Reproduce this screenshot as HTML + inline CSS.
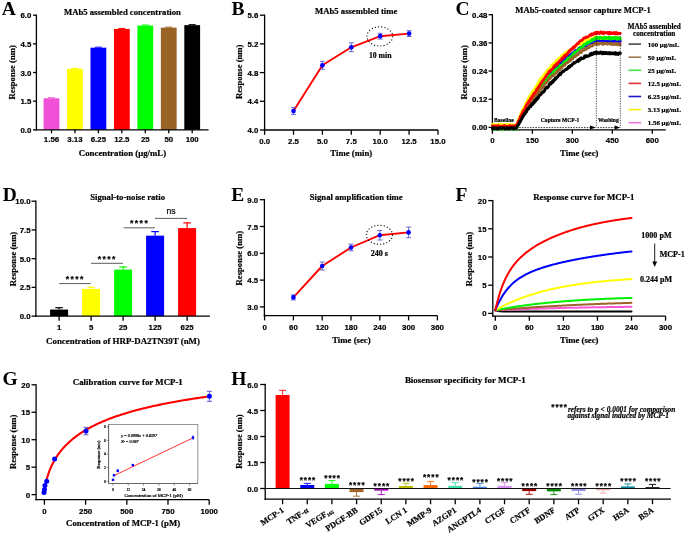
<!DOCTYPE html>
<html><head><meta charset="utf-8"><style>
html,body{margin:0;padding:0;background:#fff;}
svg{display:block;}
#w{will-change:transform;width:685px;height:535px;background:#fff;}
</style></head><body>
<div id="w"><svg width="685" height="535" viewBox="0 0 685 535">
<style>text{stroke:#000;stroke-width:0.2px;}</style>
<rect width="685" height="535" fill="#fff"/>
<text x="1.8" y="14.6" font-family="'Liberation Serif', serif" font-size="19.5" font-weight="bold" text-anchor="start" fill="#000" style="stroke:none">A</text>
<line x1="36.4" y1="14.55" x2="36.4" y2="130.45" stroke="#000" stroke-width="1.3" />
<line x1="33" y1="129.8" x2="36.4" y2="129.8" stroke="#000" stroke-width="1.3" />
<text x="31.3" y="132.8" font-family="'Liberation Sans', sans-serif" font-size="7.85" font-weight="bold" text-anchor="end" fill="#000" >0.0</text>
<line x1="33" y1="101.15" x2="36.4" y2="101.15" stroke="#000" stroke-width="1.3" />
<text x="31.3" y="104.15" font-family="'Liberation Sans', sans-serif" font-size="7.85" font-weight="bold" text-anchor="end" fill="#000" >1.5</text>
<line x1="33" y1="72.5" x2="36.4" y2="72.5" stroke="#000" stroke-width="1.3" />
<text x="31.3" y="75.5" font-family="'Liberation Sans', sans-serif" font-size="7.85" font-weight="bold" text-anchor="end" fill="#000" >3.0</text>
<line x1="33" y1="43.85" x2="36.4" y2="43.85" stroke="#000" stroke-width="1.3" />
<text x="31.3" y="46.85" font-family="'Liberation Sans', sans-serif" font-size="7.85" font-weight="bold" text-anchor="end" fill="#000" >4.5</text>
<line x1="33" y1="15.2" x2="36.4" y2="15.2" stroke="#000" stroke-width="1.3" />
<text x="31.3" y="18.2" font-family="'Liberation Sans', sans-serif" font-size="7.85" font-weight="bold" text-anchor="end" fill="#000" >6.0</text>
<rect x="43.6" y="98.29" width="15.8" height="31.52" fill="#f050d8"/>
<line x1="48" y1="97.79" x2="55" y2="97.79" stroke="#f050d8" stroke-width="1.0" />
<rect x="67.05" y="68.87" width="15.8" height="60.93" fill="#ffff00"/>
<line x1="71.45" y1="68.37" x2="78.45" y2="68.37" stroke="#ffff00" stroke-width="1.0" />
<rect x="90.5" y="47.67" width="15.8" height="82.13" fill="#0000ff"/>
<line x1="94.9" y1="47.17" x2="101.9" y2="47.17" stroke="#0000ff" stroke-width="1.0" />
<rect x="113.95" y="28.95" width="15.8" height="100.85" fill="#ff0000"/>
<line x1="118.35" y1="28.45" x2="125.35" y2="28.45" stroke="#ff0000" stroke-width="1.0" />
<rect x="137.4" y="25.51" width="15.8" height="104.29" fill="#00ff00"/>
<line x1="141.8" y1="25.01" x2="148.8" y2="25.01" stroke="#00ff00" stroke-width="1.0" />
<rect x="160.85" y="27.62" width="15.8" height="102.19" fill="#996326"/>
<line x1="165.25" y1="27.12" x2="172.25" y2="27.12" stroke="#996326" stroke-width="1.0" />
<rect x="184.3" y="25.13" width="15.8" height="104.67" fill="#000000"/>
<line x1="188.7" y1="24.63" x2="195.7" y2="24.63" stroke="#000000" stroke-width="1.0" />
<line x1="35.75" y1="129.8" x2="208.6" y2="129.8" stroke="#000" stroke-width="1.3" />
<line x1="51.5" y1="129.8" x2="51.5" y2="133.3" stroke="#000" stroke-width="1.3" />
<text x="51.5" y="141.6" font-family="'Liberation Sans', sans-serif" font-size="7.85" font-weight="bold" text-anchor="middle" fill="#000" >1.56</text>
<line x1="74.95" y1="129.8" x2="74.95" y2="133.3" stroke="#000" stroke-width="1.3" />
<text x="74.95" y="141.6" font-family="'Liberation Sans', sans-serif" font-size="7.85" font-weight="bold" text-anchor="middle" fill="#000" >3.13</text>
<line x1="98.4" y1="129.8" x2="98.4" y2="133.3" stroke="#000" stroke-width="1.3" />
<text x="98.4" y="141.6" font-family="'Liberation Sans', sans-serif" font-size="7.85" font-weight="bold" text-anchor="middle" fill="#000" >6.25</text>
<line x1="121.85" y1="129.8" x2="121.85" y2="133.3" stroke="#000" stroke-width="1.3" />
<text x="121.85" y="141.6" font-family="'Liberation Sans', sans-serif" font-size="7.85" font-weight="bold" text-anchor="middle" fill="#000" >12.5</text>
<line x1="145.3" y1="129.8" x2="145.3" y2="133.3" stroke="#000" stroke-width="1.3" />
<text x="145.3" y="141.6" font-family="'Liberation Sans', sans-serif" font-size="7.85" font-weight="bold" text-anchor="middle" fill="#000" >25</text>
<line x1="168.75" y1="129.8" x2="168.75" y2="133.3" stroke="#000" stroke-width="1.3" />
<text x="168.75" y="141.6" font-family="'Liberation Sans', sans-serif" font-size="7.85" font-weight="bold" text-anchor="middle" fill="#000" >50</text>
<line x1="192.2" y1="129.8" x2="192.2" y2="133.3" stroke="#000" stroke-width="1.3" />
<text x="192.2" y="141.6" font-family="'Liberation Sans', sans-serif" font-size="7.85" font-weight="bold" text-anchor="middle" fill="#000" >100</text>
<text x="122.4" y="14.6" font-family="'Liberation Serif', serif" font-size="8.67" font-weight="bold" text-anchor="middle" fill="#000" >MAb5 assembled concentration</text>
<text x="122.5" y="155.5" font-family="'Liberation Serif', serif" font-size="8.8" font-weight="bold" text-anchor="middle" fill="#000" >Concentration (μg/mL)</text>
<text transform="translate(15.1,72.4) rotate(-90)" x="0" y="0" font-family="'Liberation Serif', serif" font-size="8.65" font-weight="bold" text-anchor="middle">Response (nm)</text>
<text x="231.6" y="14.6" font-family="'Liberation Serif', serif" font-size="19.5" font-weight="bold" text-anchor="start" fill="#000" style="stroke:none">B</text>
<line x1="264.6" y1="14.55" x2="264.6" y2="130.65" stroke="#000" stroke-width="1.3" />
<line x1="259.9" y1="130" x2="264.6" y2="130" stroke="#000" stroke-width="1.3" />
<text x="258.3" y="133" font-family="'Liberation Sans', sans-serif" font-size="7.85" font-weight="bold" text-anchor="end" fill="#000" >4.0</text>
<line x1="259.9" y1="101.3" x2="264.6" y2="101.3" stroke="#000" stroke-width="1.3" />
<text x="258.3" y="104.3" font-family="'Liberation Sans', sans-serif" font-size="7.85" font-weight="bold" text-anchor="end" fill="#000" >4.4</text>
<line x1="259.9" y1="72.6" x2="264.6" y2="72.6" stroke="#000" stroke-width="1.3" />
<text x="258.3" y="75.6" font-family="'Liberation Sans', sans-serif" font-size="7.85" font-weight="bold" text-anchor="end" fill="#000" >4.8</text>
<line x1="259.9" y1="43.9" x2="264.6" y2="43.9" stroke="#000" stroke-width="1.3" />
<text x="258.3" y="46.9" font-family="'Liberation Sans', sans-serif" font-size="7.85" font-weight="bold" text-anchor="end" fill="#000" >5.2</text>
<line x1="259.9" y1="15.2" x2="264.6" y2="15.2" stroke="#000" stroke-width="1.3" />
<text x="258.3" y="18.2" font-family="'Liberation Sans', sans-serif" font-size="7.85" font-weight="bold" text-anchor="end" fill="#000" >5.6</text>
<line x1="263.95" y1="130" x2="438" y2="130" stroke="#000" stroke-width="1.3" />
<line x1="264.6" y1="130" x2="264.6" y2="134.8" stroke="#000" stroke-width="1.3" />
<text x="264.6" y="143.9" font-family="'Liberation Sans', sans-serif" font-size="7.85" font-weight="bold" text-anchor="middle" fill="#000" >0.0</text>
<line x1="293.5" y1="130" x2="293.5" y2="134.8" stroke="#000" stroke-width="1.3" />
<text x="293.5" y="143.9" font-family="'Liberation Sans', sans-serif" font-size="7.85" font-weight="bold" text-anchor="middle" fill="#000" >2.5</text>
<line x1="322.4" y1="130" x2="322.4" y2="134.8" stroke="#000" stroke-width="1.3" />
<text x="322.4" y="143.9" font-family="'Liberation Sans', sans-serif" font-size="7.85" font-weight="bold" text-anchor="middle" fill="#000" >5.0</text>
<line x1="351.3" y1="130" x2="351.3" y2="134.8" stroke="#000" stroke-width="1.3" />
<text x="351.3" y="143.9" font-family="'Liberation Sans', sans-serif" font-size="7.85" font-weight="bold" text-anchor="middle" fill="#000" >7.5</text>
<line x1="380.2" y1="130" x2="380.2" y2="134.8" stroke="#000" stroke-width="1.3" />
<text x="380.2" y="143.9" font-family="'Liberation Sans', sans-serif" font-size="7.85" font-weight="bold" text-anchor="middle" fill="#000" >10.0</text>
<line x1="409.1" y1="130" x2="409.1" y2="134.8" stroke="#000" stroke-width="1.3" />
<text x="409.1" y="143.9" font-family="'Liberation Sans', sans-serif" font-size="7.85" font-weight="bold" text-anchor="middle" fill="#000" >12.5</text>
<line x1="438" y1="130" x2="438" y2="134.8" stroke="#000" stroke-width="1.3" />
<text x="438" y="143.9" font-family="'Liberation Sans', sans-serif" font-size="7.85" font-weight="bold" text-anchor="middle" fill="#000" >15.0</text>
<path d="M293.5,111.1 L322.4,65.3 L351.3,47.3 L380.2,36.2 L409.1,33.6" fill="none" stroke="#ff0000" stroke-width="1.9" stroke-linejoin="round" stroke-linecap="round" />
<line x1="293.5" y1="107.6" x2="293.5" y2="114.6" stroke="#4848c0" stroke-width="0.8" />
<line x1="291" y1="107.6" x2="296" y2="107.6" stroke="#4848c0" stroke-width="0.8" />
<line x1="291" y1="114.6" x2="296" y2="114.6" stroke="#4848c0" stroke-width="0.8" />
<circle cx="293.5" cy="111.1" r="2.35" fill="#0000ff"/>
<line x1="322.4" y1="61.3" x2="322.4" y2="69.3" stroke="#4848c0" stroke-width="0.8" />
<line x1="319.9" y1="61.3" x2="324.9" y2="61.3" stroke="#4848c0" stroke-width="0.8" />
<line x1="319.9" y1="69.3" x2="324.9" y2="69.3" stroke="#4848c0" stroke-width="0.8" />
<circle cx="322.4" cy="65.3" r="2.35" fill="#0000ff"/>
<line x1="351.3" y1="42.9" x2="351.3" y2="51.7" stroke="#4848c0" stroke-width="0.8" />
<line x1="348.8" y1="42.9" x2="353.8" y2="42.9" stroke="#4848c0" stroke-width="0.8" />
<line x1="348.8" y1="51.7" x2="353.8" y2="51.7" stroke="#4848c0" stroke-width="0.8" />
<circle cx="351.3" cy="47.3" r="2.35" fill="#0000ff"/>
<line x1="380.2" y1="33.3" x2="380.2" y2="39.1" stroke="#4848c0" stroke-width="0.8" />
<line x1="377.7" y1="33.3" x2="382.7" y2="33.3" stroke="#4848c0" stroke-width="0.8" />
<line x1="377.7" y1="39.1" x2="382.7" y2="39.1" stroke="#4848c0" stroke-width="0.8" />
<circle cx="380.2" cy="36.2" r="2.35" fill="#0000ff"/>
<line x1="409.1" y1="30.7" x2="409.1" y2="36.5" stroke="#4848c0" stroke-width="0.8" />
<line x1="406.6" y1="30.7" x2="411.6" y2="30.7" stroke="#4848c0" stroke-width="0.8" />
<line x1="406.6" y1="36.5" x2="411.6" y2="36.5" stroke="#4848c0" stroke-width="0.8" />
<circle cx="409.1" cy="33.6" r="2.35" fill="#0000ff"/>
<ellipse cx="379.8" cy="36.4" rx="12.9" ry="9.6" fill="none" stroke="#000" stroke-width="1.1" stroke-dasharray="1.1,2.1"/>
<text x="380.2" y="57.6" font-family="'Liberation Serif', serif" font-size="7.75" font-weight="bold" text-anchor="middle" fill="#000" >10 min</text>
<text x="356.2" y="13.6" font-family="'Liberation Serif', serif" font-size="8.67" font-weight="bold" text-anchor="middle" fill="#000" >MAb5 assembled time</text>
<text x="351.3" y="156.3" font-family="'Liberation Serif', serif" font-size="8.75" font-weight="bold" text-anchor="middle" fill="#000" >Time (min)</text>
<text transform="translate(242.3,71.8) rotate(-90)" x="0" y="0" font-family="'Liberation Serif', serif" font-size="8.65" font-weight="bold" text-anchor="middle">Response (nm)</text>
<text x="455.5" y="14.6" font-family="'Liberation Serif', serif" font-size="19.5" font-weight="bold" text-anchor="start" fill="#000" style="stroke:none">C</text>
<line x1="492.4" y1="14.05" x2="492.4" y2="130.45" stroke="#000" stroke-width="1.3" />
<line x1="488.6" y1="127.4" x2="492.4" y2="127.4" stroke="#000" stroke-width="1.3" />
<text x="487.4" y="130.4" font-family="'Liberation Sans', sans-serif" font-size="7.85" font-weight="bold" text-anchor="end" fill="#000" >0.00</text>
<line x1="488.6" y1="99.23" x2="492.4" y2="99.23" stroke="#000" stroke-width="1.3" />
<text x="487.4" y="102.23" font-family="'Liberation Sans', sans-serif" font-size="7.85" font-weight="bold" text-anchor="end" fill="#000" >0.12</text>
<line x1="488.6" y1="71.05" x2="492.4" y2="71.05" stroke="#000" stroke-width="1.3" />
<text x="487.4" y="74.05" font-family="'Liberation Sans', sans-serif" font-size="7.85" font-weight="bold" text-anchor="end" fill="#000" >0.24</text>
<line x1="488.6" y1="42.88" x2="492.4" y2="42.88" stroke="#000" stroke-width="1.3" />
<text x="487.4" y="45.88" font-family="'Liberation Sans', sans-serif" font-size="7.85" font-weight="bold" text-anchor="end" fill="#000" >0.36</text>
<line x1="488.6" y1="14.7" x2="492.4" y2="14.7" stroke="#000" stroke-width="1.3" />
<text x="487.4" y="17.7" font-family="'Liberation Sans', sans-serif" font-size="7.85" font-weight="bold" text-anchor="end" fill="#000" >0.48</text>
<line x1="491.75" y1="129.8" x2="665.8" y2="129.8" stroke="#000" stroke-width="1.3" />
<line x1="492.4" y1="129.8" x2="492.4" y2="133.8" stroke="#000" stroke-width="1.3" />
<text x="492.4" y="142.6" font-family="'Liberation Sans', sans-serif" font-size="7.85" font-weight="bold" text-anchor="middle" fill="#000" >0</text>
<line x1="532.38" y1="129.8" x2="532.38" y2="133.8" stroke="#000" stroke-width="1.3" />
<text x="532.38" y="142.6" font-family="'Liberation Sans', sans-serif" font-size="7.85" font-weight="bold" text-anchor="middle" fill="#000" >150</text>
<line x1="572.35" y1="129.8" x2="572.35" y2="133.8" stroke="#000" stroke-width="1.3" />
<text x="572.35" y="142.6" font-family="'Liberation Sans', sans-serif" font-size="7.85" font-weight="bold" text-anchor="middle" fill="#000" >300</text>
<line x1="612.33" y1="129.8" x2="612.33" y2="133.8" stroke="#000" stroke-width="1.3" />
<text x="612.33" y="142.6" font-family="'Liberation Sans', sans-serif" font-size="7.85" font-weight="bold" text-anchor="middle" fill="#000" >450</text>
<line x1="652.3" y1="129.8" x2="652.3" y2="133.8" stroke="#000" stroke-width="1.3" />
<text x="652.3" y="142.6" font-family="'Liberation Sans', sans-serif" font-size="7.85" font-weight="bold" text-anchor="middle" fill="#000" >600</text>
<path d="M492.4,126.53 L492.93,127.08 L493.47,126.77 L494,127.19 L494.53,127.23 L495.06,126.22 L495.6,126.12 L496.13,127.61 L496.66,126.57 L497.2,126.52 L497.73,127.89 L498.26,126.95 L498.8,127.61 L499.33,126.96 L499.86,127.25 L500.39,126.37 L500.93,127.24 L501.46,127.66 L501.99,127.04 L502.53,127.43 L503.06,127.31 L503.59,126.22 L504.13,127.46 L504.66,127.16 L505.19,126.64 L505.72,126.16 L506.26,127.66 L506.79,126.95 L507.32,127.39 L507.86,127.68 L508.39,127.39 L508.92,127.76 L509.46,126.81 L509.99,127.54 L510.52,126.9 L511.05,127.78 L511.59,127.68 L512.12,126.28 L512.65,126.34 L513.19,126.49 L513.72,127.84 L514.25,126.89 L514.79,127.23 L515.32,126.64 L515.85,127.01 L516.38,126.79 L516.92,125.55 L517.45,124.8 L517.98,123.64 L518.52,123.07 L519.05,121.53 L519.58,120.86 L520.12,119.63 L520.65,118.79 L521.18,117.16 L521.72,115.2 L522.25,115.44 L522.78,114.63 L523.31,113.56 L523.85,112.02 L524.38,111.36 L524.91,109.57 L525.45,109.82 L525.98,108.51 L526.51,107.16 L527.04,105.94 L527.58,106.56 L528.11,106.02 L528.64,103.62 L529.18,104.14 L529.71,102.68 L530.24,101.47 L530.78,101 L531.31,101.13 L531.84,100.59 L532.38,98.39 L532.91,98.71 L533.44,96.99 L533.97,97.5 L534.51,96.11 L535.04,96.41 L535.57,95.9 L536.11,94.35 L536.64,94.54 L537.17,92.61 L537.7,91.49 L538.24,91.74 L538.77,90.02 L539.3,89.62 L539.84,89.31 L540.37,88.98 L540.9,87.48 L541.44,86.59 L541.97,87.39 L542.5,85.72 L543.03,86.21 L543.57,85.44 L544.1,83.85 L544.63,83.35 L545.17,82.82 L545.7,82.41 L546.23,81.7 L546.77,81.02 L547.3,80.53 L547.83,80.51 L548.37,79.16 L548.9,78.45 L549.43,78.41 L549.96,76.99 L550.5,76.56 L551.03,77.24 L551.56,75.89 L552.1,75.41 L552.63,73.93 L553.16,74.14 L553.69,73.93 L554.23,72.42 L554.76,72.99 L555.29,72.52 L555.83,71 L556.36,71.54 L556.89,70.77 L557.43,70.67 L557.96,69.61 L558.49,69.77 L559.02,69.35 L559.56,67.59 L560.09,67.19 L560.62,67.83 L561.16,67.88 L561.69,66.14 L562.22,66.04 L562.76,65.82 L563.29,64.86 L563.82,64.47 L564.36,63.91 L564.89,63.54 L565.42,63.47 L565.95,62.46 L566.49,62.12 L567.02,62.35 L567.55,60.53 L568.09,61.02 L568.62,60.84 L569.15,59.59 L569.68,58.95 L570.22,59.51 L570.75,58.01 L571.28,57.44 L571.82,57.41 L572.35,57.41 L572.88,55.86 L573.42,55.79 L573.95,55.34 L574.48,55.78 L575.01,54.61 L575.55,54.9 L576.08,53.21 L576.61,53.07 L577.15,53.19 L577.68,53.18 L578.21,51.97 L578.75,51.14 L579.28,50.54 L579.81,50.87 L580.35,49.86 L580.88,50.57 L581.41,50.24 L581.94,48.69 L582.48,48.49 L583.01,49.09 L583.54,48.44 L584.08,48.4 L584.61,47.24 L585.14,46.53 L585.67,46.52 L586.21,47.12 L586.74,45.89 L587.27,45.73 L587.81,45.58 L588.34,45.3 L588.87,45.01 L589.41,45.67 L589.94,44.03 L590.47,43.5 L591,44.94 L591.54,44.59 L592.07,44.54 L592.6,43.32 L593.14,44.02 L593.67,43.76 L594.2,42.28 L594.74,43.02 L595.27,42.98 L595.8,42.48 L596.34,42.03 L596.87,41.7 L597.4,41.87 L597.93,41.74 L598.47,41.46 L599,42.4 L599.53,41.87 L600.07,42.82 L600.6,41.45 L601.13,43.01 L601.66,42.64 L602.2,43.06 L602.73,43.02 L603.26,43.03 L603.8,42.46 L604.33,41.46 L604.86,42.78 L605.4,41.76 L605.93,42 L606.46,42.66 L607,42.42 L607.53,42.23 L608.06,43.19 L608.59,42.61 L609.13,42.13 L609.66,41.98 L610.19,43.08 L610.73,42.4 L611.26,42.96 L611.79,42.19 L612.33,41.92 L612.86,42.54 L613.39,43.05 L613.92,41.9 L614.46,43.03 L614.99,43.27 L615.52,43.07 L616.06,43.11 L616.59,41.65 L617.12,42.78 L617.65,43.21 L618.19,41.75 L618.72,42.16 L619.25,42.17 L619.79,42.64 L620.32,42.46" fill="none" stroke="#ff66dd" stroke-width="2.7" stroke-linejoin="round" stroke-linecap="round" />
<path d="M492.4,127.15 L492.93,127.7 L493.47,126.3 L494,126.4 L494.53,126.53 L495.06,126.52 L495.6,126.42 L496.13,128.05 L496.66,127.84 L497.2,126.46 L497.73,127.2 L498.26,126.87 L498.8,126.87 L499.33,126.93 L499.86,127.46 L500.39,127.36 L500.93,126.95 L501.46,126.64 L501.99,126.89 L502.53,126.52 L503.06,127.3 L503.59,127.59 L504.13,126.98 L504.66,126.44 L505.19,126.62 L505.72,126.97 L506.26,127.39 L506.79,127.71 L507.32,126.98 L507.86,127.74 L508.39,127.42 L508.92,127.08 L509.46,126.97 L509.99,127.19 L510.52,127.57 L511.05,127.06 L511.59,127.55 L512.12,127.13 L512.65,126.74 L513.19,127.26 L513.72,127.55 L514.25,126.43 L514.79,127.06 L515.32,127.07 L515.85,127.88 L516.38,127.99 L516.92,125.73 L517.45,125.43 L517.98,124.02 L518.52,121.85 L519.05,121.02 L519.58,119.22 L520.12,119.3 L520.65,117.88 L521.18,117.16 L521.72,115.89 L522.25,114.58 L522.78,113.64 L523.31,112.3 L523.85,110.46 L524.38,110.35 L524.91,108.35 L525.45,107.66 L525.98,107.87 L526.51,105.66 L527.04,104.85 L527.58,104 L528.11,104.54 L528.64,102.44 L529.18,101.32 L529.71,101.97 L530.24,99.86 L530.78,100.36 L531.31,99.26 L531.84,98.77 L532.38,98.19 L532.91,96.75 L533.44,96.37 L533.97,94.23 L534.51,94.79 L535.04,93.56 L535.57,93.17 L536.11,91.31 L536.64,91.71 L537.17,91.28 L537.7,88.94 L538.24,88.65 L538.77,88.31 L539.3,88.02 L539.84,86.2 L540.37,85.32 L540.9,84.68 L541.44,84.58 L541.97,84.08 L542.5,82.68 L543.03,81.89 L543.57,81.21 L544.1,80.4 L544.63,79.81 L545.17,78.5 L545.7,78.55 L546.23,78.71 L546.77,77.03 L547.3,76.98 L547.83,75.27 L548.37,75.6 L548.9,75.1 L549.43,74.34 L549.96,73.45 L550.5,72.79 L551.03,72.48 L551.56,72.35 L552.1,70.42 L552.63,69.75 L553.16,70.35 L553.69,70.09 L554.23,68.81 L554.76,68.13 L555.29,68.08 L555.83,66.58 L556.36,66.19 L556.89,65.54 L557.43,65.72 L557.96,64.71 L558.49,64.06 L559.02,64.38 L559.56,64.36 L560.09,62.69 L560.62,62.94 L561.16,61.95 L561.69,62.27 L562.22,61.33 L562.76,60.3 L563.29,59.77 L563.82,58.98 L564.36,59.36 L564.89,58.76 L565.42,57.95 L565.95,57.86 L566.49,57.36 L567.02,57.75 L567.55,56.2 L568.09,57.3 L568.62,55.97 L569.15,55.77 L569.68,55.13 L570.22,55.38 L570.75,54.96 L571.28,54.09 L571.82,53.56 L572.35,53.6 L572.88,53.46 L573.42,52.25 L573.95,52.47 L574.48,52.51 L575.01,51.25 L575.55,50.46 L576.08,50.1 L576.61,50.61 L577.15,50.19 L577.68,50.35 L578.21,49.82 L578.75,48.37 L579.28,47.95 L579.81,47.74 L580.35,47.29 L580.88,47.9 L581.41,47.86 L581.94,47.63 L582.48,46.17 L583.01,46.97 L583.54,45.68 L584.08,45.59 L584.61,45.86 L585.14,44.43 L585.67,44.17 L586.21,45.24 L586.74,44.01 L587.27,43.87 L587.81,44.02 L588.34,43.95 L588.87,42.5 L589.41,42.85 L589.94,42.81 L590.47,42.67 L591,41.95 L591.54,42.4 L592.07,42.86 L592.6,41.63 L593.14,41.71 L593.67,40.74 L594.2,40.83 L594.74,41.34 L595.27,40.16 L595.8,41.37 L596.34,41.24 L596.87,39.82 L597.4,41.38 L597.93,40.41 L598.47,41.13 L599,41.12 L599.53,40.3 L600.07,40.99 L600.6,40.97 L601.13,41.25 L601.66,40.29 L602.2,41.18 L602.73,41.56 L603.26,41.06 L603.8,40.82 L604.33,40.07 L604.86,40.77 L605.4,40.52 L605.93,41.19 L606.46,41.13 L607,40.94 L607.53,40.26 L608.06,41.11 L608.59,41.09 L609.13,40.29 L609.66,41.58 L610.19,41.17 L610.73,40.22 L611.26,41.69 L611.79,40.28 L612.33,40.63 L612.86,41.34 L613.39,41.13 L613.92,41.07 L614.46,41.24 L614.99,40.91 L615.52,40.66 L616.06,40.43 L616.59,40.25 L617.12,41.42 L617.65,41.5 L618.19,41.13 L618.72,41.5 L619.25,40.82 L619.79,40.67 L620.32,40.89" fill="none" stroke="#0000ff" stroke-width="2.7" stroke-linejoin="round" stroke-linecap="round" />
<path d="M492.4,125.57 L492.93,124.08 L493.47,124.91 L494,124.44 L494.53,125.38 L495.06,124.64 L495.6,124.6 L496.13,124.73 L496.66,124.97 L497.2,125.39 L497.73,124.64 L498.26,125.52 L498.8,124.2 L499.33,124.49 L499.86,124.18 L500.39,124.2 L500.93,125.4 L501.46,125.31 L501.99,124.33 L502.53,124.34 L503.06,124.75 L503.59,125.34 L504.13,125.47 L504.66,125.35 L505.19,125.07 L505.72,124.26 L506.26,124.72 L506.79,124.35 L507.32,124.95 L507.86,125.02 L508.39,124.36 L508.92,124.45 L509.46,125.41 L509.99,124.05 L510.52,125.45 L511.05,125.6 L511.59,125.71 L512.12,124.69 L512.65,124.99 L513.19,125.05 L513.72,125.14 L514.25,125.76 L514.79,125.24 L515.32,124.54 L515.85,125.55 L516.38,124.87 L516.92,123.73 L517.45,122.62 L517.98,119.99 L518.52,120.06 L519.05,118.57 L519.58,116.98 L520.12,115.78 L520.65,114.42 L521.18,112.71 L521.72,112.12 L522.25,110.05 L522.78,109.73 L523.31,108.86 L523.85,107.39 L524.38,106.53 L524.91,106.19 L525.45,105.03 L525.98,102.64 L526.51,102.82 L527.04,101.52 L527.58,99.5 L528.11,99.09 L528.64,97.91 L529.18,96.69 L529.71,96.58 L530.24,96.37 L530.78,94.37 L531.31,94.45 L531.84,93.25 L532.38,91.37 L532.91,91.8 L533.44,90.48 L533.97,90.22 L534.51,89 L535.04,88.21 L535.57,86.67 L536.11,86.68 L536.64,86.1 L537.17,85.17 L537.7,83.61 L538.24,83.39 L538.77,82.12 L539.3,80.66 L539.84,79.77 L540.37,79.06 L540.9,78.52 L541.44,77.7 L541.97,77.56 L542.5,77.19 L543.03,76.17 L543.57,75.25 L544.1,74.95 L544.63,73.64 L545.17,73.24 L545.7,73.09 L546.23,71.79 L546.77,70.74 L547.3,71.4 L547.83,70.45 L548.37,69.21 L548.9,68.62 L549.43,68.31 L549.96,67.85 L550.5,66.6 L551.03,65.63 L551.56,65.43 L552.1,65.91 L552.63,64.2 L553.16,64.22 L553.69,63.21 L554.23,62.7 L554.76,62.1 L555.29,62 L555.83,61.06 L556.36,60.29 L556.89,59.94 L557.43,59.55 L557.96,59.64 L558.49,58.39 L559.02,57.84 L559.56,58.14 L560.09,57.61 L560.62,57.69 L561.16,56.07 L561.69,56.26 L562.22,55.82 L562.76,54.73 L563.29,56 L563.82,54.25 L564.36,53.62 L564.89,53.89 L565.42,52.93 L565.95,53.36 L566.49,52.46 L567.02,51.66 L567.55,51.14 L568.09,51.97 L568.62,50.77 L569.15,51.31 L569.68,50.34 L570.22,50.81 L570.75,49.3 L571.28,48.83 L571.82,48.5 L572.35,49.12 L572.88,48.43 L573.42,47.56 L573.95,46.76 L574.48,47.47 L575.01,47.64 L575.55,46.63 L576.08,45.23 L576.61,44.95 L577.15,44.74 L577.68,44.56 L578.21,44.01 L578.75,43.73 L579.28,44.5 L579.81,44.65 L580.35,43.1 L580.88,44.2 L581.41,43.02 L581.94,43.33 L582.48,43.27 L583.01,43.04 L583.54,41.15 L584.08,41.39 L584.61,41.69 L585.14,42.06 L585.67,40.28 L586.21,40.42 L586.74,41.19 L587.27,39.65 L587.81,39.93 L588.34,39.62 L588.87,40.03 L589.41,40.28 L589.94,38.72 L590.47,39.54 L591,39.35 L591.54,39.34 L592.07,38.66 L592.6,39.15 L593.14,37.97 L593.67,37.9 L594.2,37.4 L594.74,38.24 L595.27,37.55 L595.8,37.02 L596.34,36.71 L596.87,37.91 L597.4,37.91 L597.93,38.31 L598.47,37.73 L599,37.92 L599.53,37.33 L600.07,38.34 L600.6,37.11 L601.13,37.92 L601.66,38.45 L602.2,38.32 L602.73,37.28 L603.26,37.54 L603.8,38.64 L604.33,38.29 L604.86,38.72 L605.4,38.72 L605.93,37.97 L606.46,38.78 L607,38.5 L607.53,37.79 L608.06,37.86 L608.59,37.33 L609.13,37.93 L609.66,38.94 L610.19,37.42 L610.73,38.26 L611.26,37.45 L611.79,37.4 L612.33,38.44 L612.86,37.71 L613.39,37.37 L613.92,37.57 L614.46,38.46 L614.99,38.37 L615.52,37.34 L616.06,37.74 L616.59,39.08 L617.12,37.74 L617.65,38.37 L618.19,38.12 L618.72,38.78 L619.25,38.47 L619.79,38.81 L620.32,38.36" fill="none" stroke="#ffff00" stroke-width="2.7" stroke-linejoin="round" stroke-linecap="round" />
<path d="M492.4,128.04 L492.93,128.02 L493.47,127.84 L494,129.19 L494.53,127.9 L495.06,127.74 L495.6,129.44 L496.13,128.06 L496.66,129.31 L497.2,127.85 L497.73,128.54 L498.26,128.1 L498.8,129.19 L499.33,128.81 L499.86,128.86 L500.39,129.07 L500.93,129.27 L501.46,128.32 L501.99,128.79 L502.53,128.5 L503.06,127.9 L503.59,129.2 L504.13,128.77 L504.66,129.17 L505.19,128.07 L505.72,128.67 L506.26,128.54 L506.79,129.01 L507.32,127.84 L507.86,128.32 L508.39,128.57 L508.92,127.83 L509.46,128.69 L509.99,129.02 L510.52,128.46 L511.05,128.87 L511.59,128.79 L512.12,128.09 L512.65,128.33 L513.19,129.49 L513.72,128.3 L514.25,128.48 L514.79,127.85 L515.32,128.09 L515.85,128 L516.38,129.38 L516.92,127.67 L517.45,126.61 L517.98,125.5 L518.52,123.53 L519.05,122.83 L519.58,120.86 L520.12,119.41 L520.65,119.15 L521.18,117.89 L521.72,116.81 L522.25,114.85 L522.78,114.27 L523.31,112.55 L523.85,112.58 L524.38,111.45 L524.91,109.36 L525.45,109.58 L525.98,107.32 L526.51,106.26 L527.04,106.52 L527.58,104.89 L528.11,104.46 L528.64,103.85 L529.18,101.96 L529.71,102.43 L530.24,100.81 L530.78,100.31 L531.31,99.4 L531.84,99.36 L532.38,98.62 L532.91,97.06 L533.44,96 L533.97,95.62 L534.51,95.1 L535.04,93.78 L535.57,93.2 L536.11,93.58 L536.64,92.75 L537.17,92.53 L537.7,91.81 L538.24,90.9 L538.77,89.28 L539.3,88.18 L539.84,87.74 L540.37,87.31 L540.9,86.72 L541.44,86.05 L541.97,85.02 L542.5,85.22 L543.03,83.52 L543.57,83.17 L544.1,83.26 L544.63,82.46 L545.17,80.89 L545.7,80.15 L546.23,80.53 L546.77,78.47 L547.3,78.08 L547.83,78.19 L548.37,77.61 L548.9,76.36 L549.43,75.58 L549.96,75.29 L550.5,75.75 L551.03,74.65 L551.56,75.03 L552.1,74.14 L552.63,73.96 L553.16,71.73 L553.69,71.48 L554.23,70.66 L554.76,70.9 L555.29,70.22 L555.83,69.2 L556.36,69.59 L556.89,68.28 L557.43,68.18 L557.96,67.57 L558.49,68.08 L559.02,66.91 L559.56,66.14 L560.09,65.27 L560.62,65.48 L561.16,65.35 L561.69,64.96 L562.22,64.9 L562.76,64.23 L563.29,62.74 L563.82,62.05 L564.36,62.69 L564.89,62.26 L565.42,61.26 L565.95,61.35 L566.49,60.36 L567.02,59.38 L567.55,58.69 L568.09,57.93 L568.62,58.56 L569.15,58.53 L569.68,58.05 L570.22,56.77 L570.75,56.64 L571.28,56.63 L571.82,55.94 L572.35,55.07 L572.88,54.25 L573.42,53.96 L573.95,52.86 L574.48,52.41 L575.01,52.84 L575.55,52.93 L576.08,51.66 L576.61,50.95 L577.15,50.39 L577.68,50.12 L578.21,50.3 L578.75,49.23 L579.28,49.7 L579.81,47.82 L580.35,47.68 L580.88,47.63 L581.41,47.01 L581.94,47.39 L582.48,46.95 L583.01,46.74 L583.54,45.77 L584.08,44.34 L584.61,44.94 L585.14,44.53 L585.67,44.05 L586.21,43.32 L586.74,43.74 L587.27,43.76 L587.81,41.96 L588.34,42.65 L588.87,41.78 L589.41,41.72 L589.94,42.08 L590.47,41.88 L591,41 L591.54,39.89 L592.07,40.89 L592.6,39.27 L593.14,39.34 L593.67,39.85 L594.2,38.65 L594.74,38.29 L595.27,39.24 L595.8,38.96 L596.34,37.57 L596.87,37.72 L597.4,37.53 L597.93,37.26 L598.47,37.49 L599,38.81 L599.53,37.2 L600.07,37.48 L600.6,37.43 L601.13,37.22 L601.66,38.04 L602.2,38.44 L602.73,38.62 L603.26,38.25 L603.8,38.6 L604.33,37.14 L604.86,37.65 L605.4,38.88 L605.93,37.28 L606.46,37.65 L607,38.05 L607.53,37.67 L608.06,38.18 L608.59,37.29 L609.13,37.64 L609.66,38.95 L610.19,37.49 L610.73,38.87 L611.26,37.57 L611.79,39.04 L612.33,38.48 L612.86,38.44 L613.39,37.54 L613.92,37.39 L614.46,38.67 L614.99,37.63 L615.52,37.66 L616.06,38.81 L616.59,38.91 L617.12,37.43 L617.65,39.08 L618.19,38.33 L618.72,38.06 L619.25,37.57 L619.79,38.09 L620.32,39.18" fill="none" stroke="#00ee00" stroke-width="2.7" stroke-linejoin="round" stroke-linecap="round" />
<path d="M492.4,127.21 L492.93,126.94 L493.47,126.96 L494,126.93 L494.53,127.33 L495.06,128.35 L495.6,126.84 L496.13,127.05 L496.66,128.39 L497.2,128.49 L497.73,128.46 L498.26,127.14 L498.8,127.34 L499.33,128.41 L499.86,127.57 L500.39,127.97 L500.93,127.26 L501.46,126.74 L501.99,127.32 L502.53,128.05 L503.06,128.11 L503.59,127.72 L504.13,127.54 L504.66,127.67 L505.19,127.5 L505.72,127.66 L506.26,128.2 L506.79,127.06 L507.32,127.77 L507.86,128.38 L508.39,128.23 L508.92,127.02 L509.46,128.43 L509.99,128.21 L510.52,127 L511.05,127.18 L511.59,127.06 L512.12,126.8 L512.65,128.46 L513.19,127.44 L513.72,128.27 L514.25,126.91 L514.79,126.73 L515.32,128.27 L515.85,128.13 L516.38,128.48 L516.92,126.7 L517.45,125.19 L517.98,124.42 L518.52,122.02 L519.05,121.65 L519.58,120.32 L520.12,118.65 L520.65,118.36 L521.18,116.77 L521.72,116.04 L522.25,114.77 L522.78,113.67 L523.31,112.77 L523.85,112.26 L524.38,112.04 L524.91,111.09 L525.45,110.11 L525.98,109.23 L526.51,107.44 L527.04,107.89 L527.58,105.84 L528.11,104.82 L528.64,104.76 L529.18,104.45 L529.71,103.04 L530.24,102.88 L530.78,101.54 L531.31,102.08 L531.84,100.48 L532.38,99.86 L532.91,99.29 L533.44,99.25 L533.97,98.79 L534.51,97.3 L535.04,96.49 L535.57,96.15 L536.11,94.5 L536.64,94.48 L537.17,94.56 L537.7,93.76 L538.24,91.79 L538.77,92.54 L539.3,91.02 L539.84,91.42 L540.37,89.63 L540.9,88.69 L541.44,88.62 L541.97,88.55 L542.5,87.07 L543.03,87.2 L543.57,86.27 L544.1,84.99 L544.63,84.24 L545.17,83.97 L545.7,83.16 L546.23,82.49 L546.77,82.38 L547.3,82.19 L547.83,81.07 L548.37,79.71 L548.9,79.27 L549.43,78.98 L549.96,78.86 L550.5,77.45 L551.03,76.8 L551.56,76.69 L552.1,76.09 L552.63,75.1 L553.16,75.49 L553.69,75.66 L554.23,74.45 L554.76,74.3 L555.29,73.96 L555.83,73.47 L556.36,73.11 L556.89,71.76 L557.43,71.71 L557.96,70.21 L558.49,71.09 L559.02,69.7 L559.56,69.4 L560.09,69.67 L560.62,68.12 L561.16,67.47 L561.69,68.15 L562.22,67.28 L562.76,65.89 L563.29,65.33 L563.82,65.46 L564.36,64.38 L564.89,65.41 L565.42,63.79 L565.95,63.49 L566.49,63.24 L567.02,63.01 L567.55,62.41 L568.09,62.31 L568.62,61.91 L569.15,61.06 L569.68,60 L570.22,61.14 L570.75,60.18 L571.28,58.64 L571.82,58.84 L572.35,58.96 L572.88,58.96 L573.42,56.86 L573.95,56.33 L574.48,56.75 L575.01,56.22 L575.55,56.65 L576.08,56.11 L576.61,54.81 L577.15,54.56 L577.68,54.45 L578.21,54.59 L578.75,52.97 L579.28,52.92 L579.81,51.99 L580.35,52.61 L580.88,51.12 L581.41,52.39 L581.94,51.29 L582.48,51.02 L583.01,49.79 L583.54,49.72 L584.08,49.8 L584.61,50.17 L585.14,49.28 L585.67,48.5 L586.21,49.45 L586.74,48.56 L587.27,48.02 L587.81,47.14 L588.34,47.02 L588.87,47.82 L589.41,46.16 L589.94,46.6 L590.47,46.49 L591,45.74 L591.54,46.23 L592.07,46.22 L592.6,45.88 L593.14,45.41 L593.67,44.21 L594.2,43.71 L594.74,44.15 L595.27,43.7 L595.8,43.27 L596.34,44.27 L596.87,43.1 L597.4,44.21 L597.93,44.43 L598.47,42.98 L599,44.42 L599.53,43.51 L600.07,43.19 L600.6,43.16 L601.13,42.91 L601.66,43.75 L602.2,43.56 L602.73,44.42 L603.26,44.4 L603.8,43.02 L604.33,43.66 L604.86,43.65 L605.4,43.28 L605.93,43.43 L606.46,43.47 L607,44.26 L607.53,43.64 L608.06,43.24 L608.59,43.45 L609.13,43.87 L609.66,44.11 L610.19,43.55 L610.73,44.38 L611.26,43.52 L611.79,44.36 L612.33,44.26 L612.86,43.5 L613.39,44.55 L613.92,43.92 L614.46,44.2 L614.99,44.32 L615.52,44.39 L616.06,44.07 L616.59,43.39 L617.12,44.72 L617.65,44.87 L618.19,44.22 L618.72,44.4 L619.25,43.85 L619.79,45 L620.32,44.63" fill="none" stroke="#9b6428" stroke-width="2.7" stroke-linejoin="round" stroke-linecap="round" />
<path d="M492.4,125.7 L492.93,126.77 L493.47,127.08 L494,125.92 L494.53,127.09 L495.06,126.17 L495.6,125.62 L496.13,126.59 L496.66,125.91 L497.2,126.62 L497.73,126.35 L498.26,125.49 L498.8,126.25 L499.33,126.83 L499.86,126.16 L500.39,126.27 L500.93,126.85 L501.46,126.1 L501.99,126.19 L502.53,126.35 L503.06,126.78 L503.59,125.67 L504.13,125.47 L504.66,126.67 L505.19,126.29 L505.72,125.84 L506.26,126.91 L506.79,126.89 L507.32,126.27 L507.86,127.08 L508.39,126.8 L508.92,126.65 L509.46,125.82 L509.99,125.32 L510.52,126.52 L511.05,126.62 L511.59,125.93 L512.12,126.16 L512.65,126.32 L513.19,125.75 L513.72,126.56 L514.25,126.31 L514.79,125.99 L515.32,125.5 L515.85,126.3 L516.38,125.88 L516.92,125.37 L517.45,123.14 L517.98,122.32 L518.52,120.76 L519.05,119.95 L519.58,119.08 L520.12,117.07 L520.65,115.83 L521.18,115.47 L521.72,113.86 L522.25,113.32 L522.78,111.65 L523.31,110.49 L523.85,110.26 L524.38,109.96 L524.91,108.89 L525.45,107.3 L525.98,106.16 L526.51,104.64 L527.04,104.12 L527.58,103.3 L528.11,103.55 L528.64,101.2 L529.18,101.85 L529.71,100.16 L530.24,99.25 L530.78,98.12 L531.31,98.57 L531.84,96.36 L532.38,96.25 L532.91,95.34 L533.44,93.99 L533.97,93.24 L534.51,93.83 L535.04,92.69 L535.57,91.8 L536.11,91.32 L536.64,89.08 L537.17,89.38 L537.7,88.67 L538.24,86.93 L538.77,86.55 L539.3,86.68 L539.84,84.71 L540.37,84.69 L540.9,82.82 L541.44,82.93 L541.97,81.42 L542.5,81.07 L543.03,80.04 L543.57,80.16 L544.1,79.18 L544.63,77.99 L545.17,77.57 L545.7,76.37 L546.23,76.33 L546.77,74.64 L547.3,74.47 L547.83,73.87 L548.37,72.86 L548.9,71.6 L549.43,71.2 L549.96,71.42 L550.5,70.04 L551.03,70.42 L551.56,69.37 L552.1,69.59 L552.63,68.82 L553.16,68.04 L553.69,66.83 L554.23,65.68 L554.76,66.06 L555.29,65.85 L555.83,65.62 L556.36,63.79 L556.89,63.18 L557.43,64.13 L557.96,63.18 L558.49,62.2 L559.02,62.13 L559.56,60.56 L560.09,60.75 L560.62,60.47 L561.16,59.84 L561.69,58.53 L562.22,57.97 L562.76,58.34 L563.29,58.3 L563.82,56.44 L564.36,55.69 L564.89,55.3 L565.42,56.04 L565.95,54.81 L566.49,54.4 L567.02,54.84 L567.55,53.61 L568.09,52.46 L568.62,52.71 L569.15,50.92 L569.68,50.89 L570.22,51.11 L570.75,49.63 L571.28,48.85 L571.82,49.2 L572.35,48.33 L572.88,48.97 L573.42,46.89 L573.95,47.64 L574.48,46.38 L575.01,46.63 L575.55,45.48 L576.08,45.39 L576.61,44.29 L577.15,43.62 L577.68,43.56 L578.21,43.72 L578.75,42.44 L579.28,41.79 L579.81,41.68 L580.35,40.67 L580.88,40.65 L581.41,40.7 L581.94,40.25 L582.48,39.95 L583.01,39.02 L583.54,38.18 L584.08,37.82 L584.61,38.04 L585.14,37.46 L585.67,37.82 L586.21,36.96 L586.74,37.55 L587.27,36.97 L587.81,36.79 L588.34,36.64 L588.87,35.97 L589.41,35.53 L589.94,35.06 L590.47,34.36 L591,35.42 L591.54,34.65 L592.07,33.69 L592.6,34.95 L593.14,34.11 L593.67,33.97 L594.2,33.43 L594.74,32.67 L595.27,34.06 L595.8,32.38 L596.34,32.56 L596.87,33.71 L597.4,32.15 L597.93,32.84 L598.47,32.82 L599,32.41 L599.53,33.64 L600.07,32.74 L600.6,32.03 L601.13,32.87 L601.66,32.04 L602.2,33.32 L602.73,33.62 L603.26,33.7 L603.8,32.17 L604.33,33.32 L604.86,32.66 L605.4,32.98 L605.93,32.68 L606.46,32.7 L607,32.41 L607.53,33.31 L608.06,32.35 L608.59,33.94 L609.13,32.3 L609.66,33.97 L610.19,32.59 L610.73,32.41 L611.26,33.61 L611.79,33.24 L612.33,33.68 L612.86,33.23 L613.39,33.46 L613.92,32.49 L614.46,33.57 L614.99,33.29 L615.52,34.11 L616.06,32.4 L616.59,32.53 L617.12,33.64 L617.65,34.1 L618.19,33.21 L618.72,33.74 L619.25,33.48 L619.79,33.19 L620.32,33.34" fill="none" stroke="#ff0000" stroke-width="2.7" stroke-linejoin="round" stroke-linecap="round" />
<path d="M492.4,128.48 L492.93,127.45 L493.47,127.95 L494,128.73 L494.53,127.86 L495.06,128.25 L495.6,127.86 L496.13,128.04 L496.66,128.57 L497.2,128.74 L497.73,129.12 L498.26,128.26 L498.8,127.76 L499.33,128.01 L499.86,127.51 L500.39,127.83 L500.93,128.45 L501.46,128.5 L501.99,127.83 L502.53,127.73 L503.06,127.58 L503.59,127.72 L504.13,128.3 L504.66,127.86 L505.19,128.99 L505.72,128.42 L506.26,128.01 L506.79,128.18 L507.32,127.47 L507.86,128.72 L508.39,128.75 L508.92,128.05 L509.46,128.71 L509.99,127.89 L510.52,127.8 L511.05,127.81 L511.59,127.75 L512.12,128.49 L512.65,128.56 L513.19,128.71 L513.72,127.59 L514.25,128.78 L514.79,128.26 L515.32,128.08 L515.85,128.31 L516.38,128.18 L516.92,126.69 L517.45,125.98 L517.98,125.38 L518.52,124.47 L519.05,123.81 L519.58,121.51 L520.12,121.77 L520.65,120.64 L521.18,119.53 L521.72,119.08 L522.25,116.66 L522.78,116.93 L523.31,116.3 L523.85,114.07 L524.38,114.13 L524.91,113.99 L525.45,112.06 L525.98,112.34 L526.51,111.72 L527.04,110.18 L527.58,108.97 L528.11,108.43 L528.64,108.88 L529.18,107.51 L529.71,106.68 L530.24,106.29 L530.78,106.55 L531.31,104.73 L531.84,103.7 L532.38,104.78 L532.91,103.05 L533.44,102.58 L533.97,103.05 L534.51,101.21 L535.04,100.26 L535.57,101.11 L536.11,99.35 L536.64,98.71 L537.17,99.39 L537.7,97.5 L538.24,98.09 L538.77,96.44 L539.3,95.77 L539.84,94.99 L540.37,94.96 L540.9,94.37 L541.44,93.46 L541.97,93.04 L542.5,92.05 L543.03,92.41 L543.57,91.98 L544.1,91.05 L544.63,90.57 L545.17,88.63 L545.7,88.36 L546.23,87.69 L546.77,87.02 L547.3,87.91 L547.83,87.23 L548.37,86.68 L548.9,85.49 L549.43,84.14 L549.96,84.14 L550.5,82.92 L551.03,83.9 L551.56,82.2 L552.1,81.69 L552.63,82.33 L553.16,80.45 L553.69,81.21 L554.23,79.57 L554.76,79.67 L555.29,78.14 L555.83,79.04 L556.36,77.62 L556.89,77.01 L557.43,77.05 L557.96,76.44 L558.49,75.32 L559.02,74.6 L559.56,74.92 L560.09,73.45 L560.62,74.5 L561.16,73.08 L561.69,72.31 L562.22,72.14 L562.76,71.31 L563.29,71.24 L563.82,71.22 L564.36,70.55 L564.89,69.99 L565.42,69.49 L565.95,69.42 L566.49,69.52 L567.02,68.48 L567.55,68.66 L568.09,67.73 L568.62,66.66 L569.15,66.34 L569.68,67.15 L570.22,66.07 L570.75,65.5 L571.28,65.33 L571.82,65.53 L572.35,64.29 L572.88,63.87 L573.42,63.5 L573.95,62.47 L574.48,63.06 L575.01,62.57 L575.55,62.23 L576.08,61.79 L576.61,61.46 L577.15,61.55 L577.68,60.25 L578.21,61.34 L578.75,59.44 L579.28,60.47 L579.81,58.9 L580.35,59.7 L580.88,58.43 L581.41,57.8 L581.94,58.34 L582.48,58.59 L583.01,58.32 L583.54,58.1 L584.08,58.02 L584.61,56.1 L585.14,56.44 L585.67,55.71 L586.21,56.64 L586.74,55.87 L587.27,56.17 L587.81,56.04 L588.34,56.19 L588.87,55.4 L589.41,55.55 L589.94,54.76 L590.47,53.73 L591,54.99 L591.54,53.37 L592.07,53.18 L592.6,54.35 L593.14,53.19 L593.67,53.71 L594.2,52.42 L594.74,52.59 L595.27,53.36 L595.8,52 L596.34,52.72 L596.87,53.51 L597.4,52.23 L597.93,53.13 L598.47,53.22 L599,53.02 L599.53,53.3 L600.07,53.2 L600.6,51.99 L601.13,52.33 L601.66,52.97 L602.2,53.77 L602.73,52.43 L603.26,53.12 L603.8,52.31 L604.33,53.62 L604.86,52.92 L605.4,53.08 L605.93,53.36 L606.46,52.43 L607,53.51 L607.53,53.66 L608.06,53.79 L608.59,52.77 L609.13,52.7 L609.66,52.6 L610.19,53.94 L610.73,53.13 L611.26,53.06 L611.79,53.32 L612.33,53.66 L612.86,52.99 L613.39,53.05 L613.92,53.84 L614.46,53.88 L614.99,53.03 L615.52,52.65 L616.06,54.21 L616.59,53.87 L617.12,53.65 L617.65,53.33 L618.19,54.35 L618.72,53.42 L619.25,53.05 L619.79,52.86 L620.32,53.33" fill="none" stroke="#000000" stroke-width="3.0" stroke-linejoin="round" stroke-linecap="round" />
<line x1="596.34" y1="33.5" x2="596.34" y2="127.6" stroke="#000" stroke-width="0.7" stroke-dasharray="1.2,1.2"/>
<line x1="620.32" y1="33.5" x2="620.32" y2="127.6" stroke="#000" stroke-width="0.7" stroke-dasharray="1.2,1.2"/>
<line x1="516.5" y1="127.6" x2="591" y2="127.6" stroke="#000" stroke-width="0.8" stroke-dasharray="1.5,1.2"/>
<line x1="597.5" y1="127.6" x2="615.5" y2="127.6" stroke="#000" stroke-width="0.8" stroke-dasharray="1.5,1.2"/>
<path d="M590,125.6 L596,127.6 L590,129.4 Z" fill="#000"/>
<path d="M614.6,125.6 L620.4,127.6 L614.6,129.4 Z" fill="#000"/>
<text x="503.9" y="122" font-family="'Liberation Serif', serif" font-size="5.6" font-weight="bold" text-anchor="middle" fill="#000" >Baseline</text>
<text x="560.1" y="122.2" font-family="'Liberation Serif', serif" font-size="5.6" font-weight="bold" text-anchor="middle" fill="#000" >Capture MCP-1</text>
<text x="608.3" y="122.2" font-family="'Liberation Serif', serif" font-size="5.6" font-weight="bold" text-anchor="middle" fill="#000" >Washing</text>
<text x="583" y="12.9" font-family="'Liberation Serif', serif" font-size="8.67" font-weight="bold" text-anchor="middle" fill="#000" >MAb5-coated sensor capture MCP-1</text>
<text x="579.3" y="155.7" font-family="'Liberation Serif', serif" font-size="8.75" font-weight="bold" text-anchor="middle" fill="#000" >Time (sec)</text>
<text transform="translate(467,72.3) rotate(-90)" x="0" y="0" font-family="'Liberation Serif', serif" font-size="8.65" font-weight="bold" text-anchor="middle">Response (nm)</text>
<text x="654.2" y="28.8" font-family="'Liberation Serif', serif" font-size="7.2" font-weight="bold" text-anchor="middle" fill="#000" >MAb5 assembled</text>
<text x="654.2" y="35.9" font-family="'Liberation Serif', serif" font-size="7.2" font-weight="bold" text-anchor="middle" fill="#000" >concentration</text>
<line x1="628.5" y1="44.1" x2="641.1" y2="44.1" stroke="#4a4a4a" stroke-width="1.6" />
<text x="647.8" y="46.5" font-family="'Liberation Serif', serif" font-size="6.9" font-weight="bold" text-anchor="start" fill="#000" >100 μg/mL</text>
<line x1="628.5" y1="57.2" x2="641.1" y2="57.2" stroke="#a07850" stroke-width="1.6" />
<text x="647.8" y="59.6" font-family="'Liberation Serif', serif" font-size="6.9" font-weight="bold" text-anchor="start" fill="#000" >50 μg/mL</text>
<line x1="628.5" y1="70.3" x2="641.1" y2="70.3" stroke="#44e044" stroke-width="1.6" />
<text x="647.8" y="72.7" font-family="'Liberation Serif', serif" font-size="6.9" font-weight="bold" text-anchor="start" fill="#000" >25 μg/mL</text>
<line x1="628.5" y1="83.4" x2="641.1" y2="83.4" stroke="#e83030" stroke-width="1.6" />
<text x="647.8" y="85.8" font-family="'Liberation Serif', serif" font-size="6.9" font-weight="bold" text-anchor="start" fill="#000" >12.5 μg/mL</text>
<line x1="628.5" y1="96.5" x2="641.1" y2="96.5" stroke="#1a1ac8" stroke-width="1.6" />
<text x="647.8" y="98.9" font-family="'Liberation Serif', serif" font-size="6.9" font-weight="bold" text-anchor="start" fill="#000" >6.25 μg/mL</text>
<line x1="628.5" y1="109.6" x2="641.1" y2="109.6" stroke="#f0f000" stroke-width="1.6" />
<text x="647.8" y="112" font-family="'Liberation Serif', serif" font-size="6.9" font-weight="bold" text-anchor="start" fill="#000" >3.13 μg/mL</text>
<line x1="628.5" y1="122.7" x2="641.1" y2="122.7" stroke="#ee77dd" stroke-width="1.6" />
<text x="647.8" y="125.1" font-family="'Liberation Serif', serif" font-size="6.9" font-weight="bold" text-anchor="start" fill="#000" >1.56 μg/mL</text>
<text x="2.8" y="201.2" font-family="'Liberation Serif', serif" font-size="19.5" font-weight="bold" text-anchor="start" fill="#000" style="stroke:none">D</text>
<line x1="35.9" y1="200.55" x2="35.9" y2="316.75" stroke="#000" stroke-width="1.3" />
<line x1="31.6" y1="316.1" x2="35.9" y2="316.1" stroke="#000" stroke-width="1.3" />
<text x="30.6" y="319.1" font-family="'Liberation Sans', sans-serif" font-size="7.85" font-weight="bold" text-anchor="end" fill="#000" >0.0</text>
<line x1="31.6" y1="287.38" x2="35.9" y2="287.38" stroke="#000" stroke-width="1.3" />
<text x="30.6" y="290.38" font-family="'Liberation Sans', sans-serif" font-size="7.85" font-weight="bold" text-anchor="end" fill="#000" >2.5</text>
<line x1="31.6" y1="258.65" x2="35.9" y2="258.65" stroke="#000" stroke-width="1.3" />
<text x="30.6" y="261.65" font-family="'Liberation Sans', sans-serif" font-size="7.85" font-weight="bold" text-anchor="end" fill="#000" >5.0</text>
<line x1="31.6" y1="229.93" x2="35.9" y2="229.93" stroke="#000" stroke-width="1.3" />
<text x="30.6" y="232.93" font-family="'Liberation Sans', sans-serif" font-size="7.85" font-weight="bold" text-anchor="end" fill="#000" >7.5</text>
<line x1="31.6" y1="201.2" x2="35.9" y2="201.2" stroke="#000" stroke-width="1.3" />
<text x="30.6" y="204.2" font-family="'Liberation Sans', sans-serif" font-size="7.85" font-weight="bold" text-anchor="end" fill="#000" >10.0</text>
<rect x="50.1" y="309.55" width="18" height="6.55" fill="#000000"/>
<line x1="59.1" y1="307.7" x2="59.1" y2="309.55" stroke="#000000" stroke-width="1.2" />
<line x1="55.3" y1="307.7" x2="62.9" y2="307.7" stroke="#000000" stroke-width="1.2" />
<rect x="82.1" y="288.87" width="18" height="27.23" fill="#ffff00"/>
<line x1="91.1" y1="287.3" x2="91.1" y2="288.87" stroke="#ffff00" stroke-width="1.2" />
<line x1="87.3" y1="287.3" x2="94.9" y2="287.3" stroke="#ffff00" stroke-width="1.2" />
<rect x="114.1" y="269.57" width="18" height="46.53" fill="#00ff00"/>
<line x1="123.1" y1="266.9" x2="123.1" y2="269.57" stroke="#00ff00" stroke-width="1.2" />
<line x1="119.3" y1="266.9" x2="126.9" y2="266.9" stroke="#00ff00" stroke-width="1.2" />
<rect x="146.1" y="235.67" width="18" height="80.43" fill="#0000ff"/>
<line x1="155.1" y1="231.6" x2="155.1" y2="235.67" stroke="#0000ff" stroke-width="1.2" />
<line x1="151.3" y1="231.6" x2="158.9" y2="231.6" stroke="#0000ff" stroke-width="1.2" />
<rect x="178.1" y="228.09" width="18" height="88.01" fill="#ff0000"/>
<line x1="187.1" y1="222.9" x2="187.1" y2="228.09" stroke="#ff0000" stroke-width="1.2" />
<line x1="183.3" y1="222.9" x2="190.9" y2="222.9" stroke="#ff0000" stroke-width="1.2" />
<line x1="35.25" y1="316.1" x2="209.9" y2="316.1" stroke="#000" stroke-width="1.3" />
<line x1="59.1" y1="316.1" x2="59.1" y2="320.7" stroke="#000" stroke-width="1.3" />
<text x="59.1" y="329.6" font-family="'Liberation Sans', sans-serif" font-size="7.85" font-weight="bold" text-anchor="middle" fill="#000" >1</text>
<line x1="91.1" y1="316.1" x2="91.1" y2="320.7" stroke="#000" stroke-width="1.3" />
<text x="91.1" y="329.6" font-family="'Liberation Sans', sans-serif" font-size="7.85" font-weight="bold" text-anchor="middle" fill="#000" >5</text>
<line x1="123.1" y1="316.1" x2="123.1" y2="320.7" stroke="#000" stroke-width="1.3" />
<text x="123.1" y="329.6" font-family="'Liberation Sans', sans-serif" font-size="7.85" font-weight="bold" text-anchor="middle" fill="#000" >25</text>
<line x1="155.1" y1="316.1" x2="155.1" y2="320.7" stroke="#000" stroke-width="1.3" />
<text x="155.1" y="329.6" font-family="'Liberation Sans', sans-serif" font-size="7.85" font-weight="bold" text-anchor="middle" fill="#000" >125</text>
<line x1="187.1" y1="316.1" x2="187.1" y2="320.7" stroke="#000" stroke-width="1.3" />
<text x="187.1" y="329.6" font-family="'Liberation Sans', sans-serif" font-size="7.85" font-weight="bold" text-anchor="middle" fill="#000" >625</text>
<line x1="59.3" y1="283.6" x2="90.7" y2="283.6" stroke="#333" stroke-width="0.8" />
<text x="67.4" y="281.79" font-family="'Liberation Sans', sans-serif" font-size="8.6" font-weight="bold" text-anchor="middle" fill="#000" >*</text>
<text x="72.2" y="281.79" font-family="'Liberation Sans', sans-serif" font-size="8.6" font-weight="bold" text-anchor="middle" fill="#000" >*</text>
<text x="77" y="281.79" font-family="'Liberation Sans', sans-serif" font-size="8.6" font-weight="bold" text-anchor="middle" fill="#000" >*</text>
<text x="81.8" y="281.79" font-family="'Liberation Sans', sans-serif" font-size="8.6" font-weight="bold" text-anchor="middle" fill="#000" >*</text>
<line x1="91" y1="263.3" x2="123" y2="263.3" stroke="#333" stroke-width="0.8" />
<text x="99.4" y="261.79" font-family="'Liberation Sans', sans-serif" font-size="8.6" font-weight="bold" text-anchor="middle" fill="#000" >*</text>
<text x="104.2" y="261.79" font-family="'Liberation Sans', sans-serif" font-size="8.6" font-weight="bold" text-anchor="middle" fill="#000" >*</text>
<text x="109" y="261.79" font-family="'Liberation Sans', sans-serif" font-size="8.6" font-weight="bold" text-anchor="middle" fill="#000" >*</text>
<text x="113.8" y="261.79" font-family="'Liberation Sans', sans-serif" font-size="8.6" font-weight="bold" text-anchor="middle" fill="#000" >*</text>
<line x1="123.6" y1="227.8" x2="155" y2="227.8" stroke="#333" stroke-width="0.8" />
<text x="131.7" y="226.09" font-family="'Liberation Sans', sans-serif" font-size="8.6" font-weight="bold" text-anchor="middle" fill="#000" >*</text>
<text x="136.5" y="226.09" font-family="'Liberation Sans', sans-serif" font-size="8.6" font-weight="bold" text-anchor="middle" fill="#000" >*</text>
<text x="141.3" y="226.09" font-family="'Liberation Sans', sans-serif" font-size="8.6" font-weight="bold" text-anchor="middle" fill="#000" >*</text>
<text x="146.1" y="226.09" font-family="'Liberation Sans', sans-serif" font-size="8.6" font-weight="bold" text-anchor="middle" fill="#000" >*</text>
<line x1="155" y1="218.4" x2="187" y2="218.4" stroke="#333" stroke-width="0.8" />
<text x="171" y="214.2" font-family="'Liberation Sans', sans-serif" font-size="8.6" font-weight="normal" text-anchor="middle" fill="#000" >ns</text>
<text x="127.6" y="199.6" font-family="'Liberation Serif', serif" font-size="8.67" font-weight="bold" text-anchor="middle" fill="#000" >Signal-to-noise ratio</text>
<text x="123" y="343.5" font-family="'Liberation Serif', serif" font-size="8.88" font-weight="bold" text-anchor="middle" fill="#000" >Concentration of HRP-DA2TN39T (nM)</text>
<text transform="translate(15.5,259) rotate(-90)" x="0" y="0" font-family="'Liberation Serif', serif" font-size="8.65" font-weight="bold" text-anchor="middle">Response (nm)</text>
<text x="231.2" y="200.6" font-family="'Liberation Serif', serif" font-size="19.5" font-weight="bold" text-anchor="start" fill="#000" style="stroke:none">E</text>
<line x1="264.4" y1="199.05" x2="264.4" y2="316.35" stroke="#000" stroke-width="1.3" />
<line x1="259.8" y1="306.9" x2="264.4" y2="306.9" stroke="#000" stroke-width="1.3" />
<text x="258.2" y="309.9" font-family="'Liberation Sans', sans-serif" font-size="7.85" font-weight="bold" text-anchor="end" fill="#000" >3.0</text>
<line x1="259.8" y1="280.1" x2="264.4" y2="280.1" stroke="#000" stroke-width="1.3" />
<text x="258.2" y="283.1" font-family="'Liberation Sans', sans-serif" font-size="7.85" font-weight="bold" text-anchor="end" fill="#000" >4.5</text>
<line x1="259.8" y1="253.3" x2="264.4" y2="253.3" stroke="#000" stroke-width="1.3" />
<text x="258.2" y="256.3" font-family="'Liberation Sans', sans-serif" font-size="7.85" font-weight="bold" text-anchor="end" fill="#000" >6.0</text>
<line x1="259.8" y1="226.5" x2="264.4" y2="226.5" stroke="#000" stroke-width="1.3" />
<text x="258.2" y="229.5" font-family="'Liberation Sans', sans-serif" font-size="7.85" font-weight="bold" text-anchor="end" fill="#000" >7.5</text>
<line x1="259.8" y1="199.7" x2="264.4" y2="199.7" stroke="#000" stroke-width="1.3" />
<text x="258.2" y="202.7" font-family="'Liberation Sans', sans-serif" font-size="7.85" font-weight="bold" text-anchor="end" fill="#000" >9.0</text>
<line x1="263.75" y1="315.7" x2="437.4" y2="315.7" stroke="#000" stroke-width="1.3" />
<line x1="264.6" y1="315.7" x2="264.6" y2="320.4" stroke="#000" stroke-width="1.3" />
<text x="264.6" y="329.7" font-family="'Liberation Sans', sans-serif" font-size="7.85" font-weight="bold" text-anchor="middle" fill="#000" >0</text>
<line x1="293.4" y1="315.7" x2="293.4" y2="320.4" stroke="#000" stroke-width="1.3" />
<text x="293.4" y="329.7" font-family="'Liberation Sans', sans-serif" font-size="7.85" font-weight="bold" text-anchor="middle" fill="#000" >60</text>
<line x1="322.2" y1="315.7" x2="322.2" y2="320.4" stroke="#000" stroke-width="1.3" />
<text x="322.2" y="329.7" font-family="'Liberation Sans', sans-serif" font-size="7.85" font-weight="bold" text-anchor="middle" fill="#000" >120</text>
<line x1="351" y1="315.7" x2="351" y2="320.4" stroke="#000" stroke-width="1.3" />
<text x="351" y="329.7" font-family="'Liberation Sans', sans-serif" font-size="7.85" font-weight="bold" text-anchor="middle" fill="#000" >180</text>
<line x1="379.8" y1="315.7" x2="379.8" y2="320.4" stroke="#000" stroke-width="1.3" />
<text x="379.8" y="329.7" font-family="'Liberation Sans', sans-serif" font-size="7.85" font-weight="bold" text-anchor="middle" fill="#000" >240</text>
<line x1="408.6" y1="315.7" x2="408.6" y2="320.4" stroke="#000" stroke-width="1.3" />
<text x="408.6" y="329.7" font-family="'Liberation Sans', sans-serif" font-size="7.85" font-weight="bold" text-anchor="middle" fill="#000" >300</text>
<line x1="437.4" y1="315.7" x2="437.4" y2="320.4" stroke="#000" stroke-width="1.3" />
<text x="437.4" y="329.7" font-family="'Liberation Sans', sans-serif" font-size="7.85" font-weight="bold" text-anchor="middle" fill="#000" >360</text>
<path d="M293.4,297.4 L322.2,266 L351,247.5 L379.8,235.2 L408.6,232.4" fill="none" stroke="#ff0000" stroke-width="1.9" stroke-linejoin="round" stroke-linecap="round" />
<line x1="293.4" y1="294.9" x2="293.4" y2="299.9" stroke="#4848c0" stroke-width="0.8" />
<line x1="290.9" y1="294.9" x2="295.9" y2="294.9" stroke="#4848c0" stroke-width="0.8" />
<line x1="290.9" y1="299.9" x2="295.9" y2="299.9" stroke="#4848c0" stroke-width="0.8" />
<circle cx="293.4" cy="297.4" r="2.3" fill="#0000ff"/>
<line x1="322.2" y1="262" x2="322.2" y2="270" stroke="#4848c0" stroke-width="0.8" />
<line x1="319.7" y1="262" x2="324.7" y2="262" stroke="#4848c0" stroke-width="0.8" />
<line x1="319.7" y1="270" x2="324.7" y2="270" stroke="#4848c0" stroke-width="0.8" />
<circle cx="322.2" cy="266" r="2.3" fill="#0000ff"/>
<line x1="351" y1="244.2" x2="351" y2="250.8" stroke="#4848c0" stroke-width="0.8" />
<line x1="348.5" y1="244.2" x2="353.5" y2="244.2" stroke="#4848c0" stroke-width="0.8" />
<line x1="348.5" y1="250.8" x2="353.5" y2="250.8" stroke="#4848c0" stroke-width="0.8" />
<circle cx="351" cy="247.5" r="2.3" fill="#0000ff"/>
<line x1="379.8" y1="230.4" x2="379.8" y2="240" stroke="#4848c0" stroke-width="0.8" />
<line x1="377.3" y1="230.4" x2="382.3" y2="230.4" stroke="#4848c0" stroke-width="0.8" />
<line x1="377.3" y1="240" x2="382.3" y2="240" stroke="#4848c0" stroke-width="0.8" />
<circle cx="379.8" cy="235.2" r="2.3" fill="#0000ff"/>
<line x1="408.6" y1="227.1" x2="408.6" y2="237.7" stroke="#4848c0" stroke-width="0.8" />
<line x1="406.1" y1="227.1" x2="411.1" y2="227.1" stroke="#4848c0" stroke-width="0.8" />
<line x1="406.1" y1="237.7" x2="411.1" y2="237.7" stroke="#4848c0" stroke-width="0.8" />
<circle cx="408.6" cy="232.4" r="2.3" fill="#0000ff"/>
<ellipse cx="379.4" cy="234.8" rx="13.1" ry="9.5" fill="none" stroke="#000" stroke-width="1.1" stroke-dasharray="1.1,2.1"/>
<text x="379.2" y="256" font-family="'Liberation Serif', serif" font-size="8.0" font-weight="bold" text-anchor="middle" fill="#000" >240 s</text>
<text x="356.2" y="199.8" font-family="'Liberation Serif', serif" font-size="8.67" font-weight="bold" text-anchor="middle" fill="#000" >Signal amplification time</text>
<text x="351.4" y="342.5" font-family="'Liberation Serif', serif" font-size="8.75" font-weight="bold" text-anchor="middle" fill="#000" >Time (sec)</text>
<text transform="translate(242,258.2) rotate(-90)" x="0" y="0" font-family="'Liberation Serif', serif" font-size="8.65" font-weight="bold" text-anchor="middle">Response (nm)</text>
<text x="455.6" y="200.8" font-family="'Liberation Serif', serif" font-size="19.5" font-weight="bold" text-anchor="start" fill="#000" style="stroke:none">F</text>
<line x1="492.8" y1="199.95" x2="492.8" y2="316.75" stroke="#000" stroke-width="1.3" />
<line x1="488.2" y1="313.4" x2="492.8" y2="313.4" stroke="#000" stroke-width="1.3" />
<text x="486.6" y="316.4" font-family="'Liberation Sans', sans-serif" font-size="7.85" font-weight="bold" text-anchor="end" fill="#000" >0</text>
<line x1="488.2" y1="285.2" x2="492.8" y2="285.2" stroke="#000" stroke-width="1.3" />
<text x="486.6" y="288.2" font-family="'Liberation Sans', sans-serif" font-size="7.85" font-weight="bold" text-anchor="end" fill="#000" >5</text>
<line x1="488.2" y1="257" x2="492.8" y2="257" stroke="#000" stroke-width="1.3" />
<text x="486.6" y="260" font-family="'Liberation Sans', sans-serif" font-size="7.85" font-weight="bold" text-anchor="end" fill="#000" >10</text>
<line x1="488.2" y1="228.8" x2="492.8" y2="228.8" stroke="#000" stroke-width="1.3" />
<text x="486.6" y="231.8" font-family="'Liberation Sans', sans-serif" font-size="7.85" font-weight="bold" text-anchor="end" fill="#000" >15</text>
<line x1="488.2" y1="200.6" x2="492.8" y2="200.6" stroke="#000" stroke-width="1.3" />
<text x="486.6" y="203.6" font-family="'Liberation Sans', sans-serif" font-size="7.85" font-weight="bold" text-anchor="end" fill="#000" >20</text>
<line x1="492.15" y1="316.1" x2="665.55" y2="316.1" stroke="#000" stroke-width="1.3" />
<line x1="495.3" y1="316.1" x2="495.3" y2="320.7" stroke="#000" stroke-width="1.3" />
<text x="495.3" y="329.9" font-family="'Liberation Sans', sans-serif" font-size="7.85" font-weight="bold" text-anchor="middle" fill="#000" >0</text>
<line x1="529.35" y1="316.1" x2="529.35" y2="320.7" stroke="#000" stroke-width="1.3" />
<text x="529.35" y="329.9" font-family="'Liberation Sans', sans-serif" font-size="7.85" font-weight="bold" text-anchor="middle" fill="#000" >60</text>
<line x1="563.4" y1="316.1" x2="563.4" y2="320.7" stroke="#000" stroke-width="1.3" />
<text x="563.4" y="329.9" font-family="'Liberation Sans', sans-serif" font-size="7.85" font-weight="bold" text-anchor="middle" fill="#000" >120</text>
<line x1="597.45" y1="316.1" x2="597.45" y2="320.7" stroke="#000" stroke-width="1.3" />
<text x="597.45" y="329.9" font-family="'Liberation Sans', sans-serif" font-size="7.85" font-weight="bold" text-anchor="middle" fill="#000" >180</text>
<line x1="631.5" y1="316.1" x2="631.5" y2="320.7" stroke="#000" stroke-width="1.3" />
<text x="631.5" y="329.9" font-family="'Liberation Sans', sans-serif" font-size="7.85" font-weight="bold" text-anchor="middle" fill="#000" >240</text>
<line x1="665.55" y1="316.1" x2="665.55" y2="320.7" stroke="#000" stroke-width="1.3" />
<text x="665.55" y="329.9" font-family="'Liberation Sans', sans-serif" font-size="7.85" font-weight="bold" text-anchor="middle" fill="#000" >300</text>
<path d="M495.3,310.3 L496.15,310.58 L497,310.81 L497.85,310.98 L498.7,311.12 L499.56,311.22 L500.41,311.31 L501.26,311.37 L502.11,311.42 L502.96,311.46 L503.81,311.49 L504.66,311.51 L505.51,311.53 L506.37,311.54 L507.22,311.56 L508.07,311.56 L508.92,311.57 L509.77,311.58 L510.62,311.58 L511.47,311.58 L512.33,311.59 L513.18,311.59 L514.03,311.59 L514.88,311.59 L515.73,311.59 L516.58,311.59 L517.43,311.59 L518.28,311.59 L519.13,311.59 L519.99,311.59 L520.84,311.59 L521.69,311.59 L522.54,311.59 L523.39,311.59 L524.24,311.59 L525.09,311.59 L525.95,311.6 L526.8,311.6 L527.65,311.6 L528.5,311.6 L529.35,311.6 L530.2,311.6 L531.05,311.6 L531.9,311.6 L532.75,311.6 L533.61,311.6 L534.46,311.6 L535.31,311.6 L536.16,311.6 L537.01,311.6 L537.86,311.6 L538.71,311.6 L539.57,311.6 L540.42,311.6 L541.27,311.6 L542.12,311.6 L542.97,311.6 L543.82,311.6 L544.67,311.6 L545.52,311.6 L546.38,311.6 L547.23,311.6 L548.08,311.6 L548.93,311.6 L549.78,311.6 L550.63,311.6 L551.48,311.6 L552.33,311.6 L553.19,311.6 L554.04,311.6 L554.89,311.6 L555.74,311.6 L556.59,311.6 L557.44,311.6 L558.29,311.6 L559.14,311.6 L560,311.6 L560.85,311.6 L561.7,311.6 L562.55,311.6 L563.4,311.6 L564.25,311.6 L565.1,311.6 L565.95,311.6 L566.8,311.6 L567.66,311.6 L568.51,311.6 L569.36,311.6 L570.21,311.6 L571.06,311.6 L571.91,311.6 L572.76,311.6 L573.62,311.6 L574.47,311.6 L575.32,311.6 L576.17,311.6 L577.02,311.6 L577.87,311.6 L578.72,311.6 L579.57,311.6 L580.42,311.6 L581.28,311.6 L582.13,311.6 L582.98,311.6 L583.83,311.6 L584.68,311.6 L585.53,311.6 L586.38,311.6 L587.24,311.6 L588.09,311.6 L588.94,311.6 L589.79,311.6 L590.64,311.6 L591.49,311.6 L592.34,311.6 L593.19,311.6 L594.04,311.6 L594.9,311.6 L595.75,311.6 L596.6,311.6 L597.45,311.6 L598.3,311.6 L599.15,311.6 L600,311.6 L600.86,311.6 L601.71,311.6 L602.56,311.6 L603.41,311.6 L604.26,311.6 L605.11,311.6 L605.96,311.6 L606.81,311.6 L607.66,311.6 L608.52,311.6 L609.37,311.6 L610.22,311.6 L611.07,311.6 L611.92,311.6 L612.77,311.6 L613.62,311.6 L614.48,311.6 L615.33,311.6 L616.18,311.6 L617.03,311.6 L617.88,311.6 L618.73,311.6 L619.58,311.6 L620.43,311.6 L621.28,311.6 L622.14,311.6 L622.99,311.6 L623.84,311.6 L624.69,311.6 L625.54,311.6 L626.39,311.6 L627.24,311.6 L628.1,311.6 L628.95,311.6 L629.8,311.6 L630.65,311.6 L631.5,311.6" fill="none" stroke="#000000" stroke-width="2.0" stroke-linejoin="round" stroke-linecap="round" />
<path d="M495.3,310.3 L496.15,310.26 L497,310.22 L497.85,310.18 L498.7,310.14 L499.56,310.1 L500.41,310.06 L501.26,310.02 L502.11,309.98 L502.96,309.94 L503.81,309.91 L504.66,309.87 L505.51,309.83 L506.37,309.8 L507.22,309.76 L508.07,309.72 L508.92,309.69 L509.77,309.65 L510.62,309.62 L511.47,309.58 L512.33,309.55 L513.18,309.52 L514.03,309.48 L514.88,309.45 L515.73,309.41 L516.58,309.38 L517.43,309.35 L518.28,309.32 L519.13,309.28 L519.99,309.25 L520.84,309.22 L521.69,309.19 L522.54,309.16 L523.39,309.13 L524.24,309.1 L525.09,309.07 L525.95,309.04 L526.8,309.01 L527.65,308.98 L528.5,308.95 L529.35,308.92 L530.2,308.89 L531.05,308.86 L531.9,308.84 L532.75,308.81 L533.61,308.78 L534.46,308.75 L535.31,308.73 L536.16,308.7 L537.01,308.67 L537.86,308.65 L538.71,308.62 L539.57,308.59 L540.42,308.57 L541.27,308.54 L542.12,308.52 L542.97,308.49 L543.82,308.47 L544.67,308.44 L545.52,308.42 L546.38,308.39 L547.23,308.37 L548.08,308.35 L548.93,308.32 L549.78,308.3 L550.63,308.27 L551.48,308.25 L552.33,308.23 L553.19,308.21 L554.04,308.18 L554.89,308.16 L555.74,308.14 L556.59,308.12 L557.44,308.1 L558.29,308.07 L559.14,308.05 L560,308.03 L560.85,308.01 L561.7,307.99 L562.55,307.97 L563.4,307.95 L564.25,307.93 L565.1,307.91 L565.95,307.89 L566.8,307.87 L567.66,307.85 L568.51,307.83 L569.36,307.81 L570.21,307.79 L571.06,307.77 L571.91,307.76 L572.76,307.74 L573.62,307.72 L574.47,307.7 L575.32,307.68 L576.17,307.66 L577.02,307.65 L577.87,307.63 L578.72,307.61 L579.57,307.59 L580.42,307.58 L581.28,307.56 L582.13,307.54 L582.98,307.53 L583.83,307.51 L584.68,307.49 L585.53,307.48 L586.38,307.46 L587.24,307.45 L588.09,307.43 L588.94,307.41 L589.79,307.4 L590.64,307.38 L591.49,307.37 L592.34,307.35 L593.19,307.34 L594.04,307.32 L594.9,307.31 L595.75,307.29 L596.6,307.28 L597.45,307.27 L598.3,307.25 L599.15,307.24 L600,307.22 L600.86,307.21 L601.71,307.2 L602.56,307.18 L603.41,307.17 L604.26,307.15 L605.11,307.14 L605.96,307.13 L606.81,307.12 L607.66,307.1 L608.52,307.09 L609.37,307.08 L610.22,307.06 L611.07,307.05 L611.92,307.04 L612.77,307.03 L613.62,307.01 L614.48,307 L615.33,306.99 L616.18,306.98 L617.03,306.97 L617.88,306.96 L618.73,306.94 L619.58,306.93 L620.43,306.92 L621.28,306.91 L622.14,306.9 L622.99,306.89 L623.84,306.88 L624.69,306.87 L625.54,306.86 L626.39,306.84 L627.24,306.83 L628.1,306.82 L628.95,306.81 L629.8,306.8 L630.65,306.79 L631.5,306.78" fill="none" stroke="#ff55dd" stroke-width="2.0" stroke-linejoin="round" stroke-linecap="round" />
<path d="M495.3,310.3 L496.15,310.22 L497,310.14 L497.85,310.07 L498.7,309.99 L499.56,309.92 L500.41,309.84 L501.26,309.77 L502.11,309.69 L502.96,309.62 L503.81,309.55 L504.66,309.47 L505.51,309.4 L506.37,309.33 L507.22,309.26 L508.07,309.19 L508.92,309.12 L509.77,309.05 L510.62,308.98 L511.47,308.91 L512.33,308.84 L513.18,308.78 L514.03,308.71 L514.88,308.64 L515.73,308.58 L516.58,308.51 L517.43,308.45 L518.28,308.38 L519.13,308.32 L519.99,308.25 L520.84,308.19 L521.69,308.13 L522.54,308.07 L523.39,308 L524.24,307.94 L525.09,307.88 L525.95,307.82 L526.8,307.76 L527.65,307.7 L528.5,307.64 L529.35,307.58 L530.2,307.53 L531.05,307.47 L531.9,307.41 L532.75,307.35 L533.61,307.3 L534.46,307.24 L535.31,307.18 L536.16,307.13 L537.01,307.07 L537.86,307.02 L538.71,306.96 L539.57,306.91 L540.42,306.86 L541.27,306.8 L542.12,306.75 L542.97,306.7 L543.82,306.64 L544.67,306.59 L545.52,306.54 L546.38,306.49 L547.23,306.44 L548.08,306.39 L548.93,306.34 L549.78,306.29 L550.63,306.24 L551.48,306.19 L552.33,306.14 L553.19,306.09 L554.04,306.05 L554.89,306 L555.74,305.95 L556.59,305.9 L557.44,305.86 L558.29,305.81 L559.14,305.77 L560,305.72 L560.85,305.67 L561.7,305.63 L562.55,305.59 L563.4,305.54 L564.25,305.5 L565.1,305.45 L565.95,305.41 L566.8,305.37 L567.66,305.32 L568.51,305.28 L569.36,305.24 L570.21,305.2 L571.06,305.16 L571.91,305.11 L572.76,305.07 L573.62,305.03 L574.47,304.99 L575.32,304.95 L576.17,304.91 L577.02,304.87 L577.87,304.83 L578.72,304.79 L579.57,304.76 L580.42,304.72 L581.28,304.68 L582.13,304.64 L582.98,304.6 L583.83,304.57 L584.68,304.53 L585.53,304.49 L586.38,304.46 L587.24,304.42 L588.09,304.38 L588.94,304.35 L589.79,304.31 L590.64,304.28 L591.49,304.24 L592.34,304.21 L593.19,304.17 L594.04,304.14 L594.9,304.1 L595.75,304.07 L596.6,304.04 L597.45,304 L598.3,303.97 L599.15,303.94 L600,303.9 L600.86,303.87 L601.71,303.84 L602.56,303.81 L603.41,303.78 L604.26,303.75 L605.11,303.71 L605.96,303.68 L606.81,303.65 L607.66,303.62 L608.52,303.59 L609.37,303.56 L610.22,303.53 L611.07,303.5 L611.92,303.47 L612.77,303.44 L613.62,303.41 L614.48,303.38 L615.33,303.36 L616.18,303.33 L617.03,303.3 L617.88,303.27 L618.73,303.24 L619.58,303.21 L620.43,303.19 L621.28,303.16 L622.14,303.13 L622.99,303.11 L623.84,303.08 L624.69,303.05 L625.54,303.03 L626.39,303 L627.24,302.97 L628.1,302.95 L628.95,302.92 L629.8,302.9 L630.65,302.87 L631.5,302.85" fill="none" stroke="#9b6428" stroke-width="2.0" stroke-linejoin="round" stroke-linecap="round" />
<path d="M495.3,310.3 L496.15,310.13 L497,309.96 L497.85,309.79 L498.7,309.63 L499.56,309.46 L500.41,309.3 L501.26,309.14 L502.11,308.98 L502.96,308.83 L503.81,308.67 L504.66,308.52 L505.51,308.37 L506.37,308.22 L507.22,308.07 L508.07,307.93 L508.92,307.79 L509.77,307.64 L510.62,307.5 L511.47,307.37 L512.33,307.23 L513.18,307.09 L514.03,306.96 L514.88,306.83 L515.73,306.7 L516.58,306.57 L517.43,306.44 L518.28,306.31 L519.13,306.19 L519.99,306.07 L520.84,305.94 L521.69,305.82 L522.54,305.7 L523.39,305.59 L524.24,305.47 L525.09,305.36 L525.95,305.24 L526.8,305.13 L527.65,305.02 L528.5,304.91 L529.35,304.8 L530.2,304.69 L531.05,304.59 L531.9,304.48 L532.75,304.38 L533.61,304.28 L534.46,304.18 L535.31,304.08 L536.16,303.98 L537.01,303.88 L537.86,303.79 L538.71,303.69 L539.57,303.6 L540.42,303.5 L541.27,303.41 L542.12,303.32 L542.97,303.23 L543.82,303.14 L544.67,303.06 L545.52,302.97 L546.38,302.88 L547.23,302.8 L548.08,302.72 L548.93,302.63 L549.78,302.55 L550.63,302.47 L551.48,302.39 L552.33,302.31 L553.19,302.23 L554.04,302.16 L554.89,302.08 L555.74,302.01 L556.59,301.93 L557.44,301.86 L558.29,301.78 L559.14,301.71 L560,301.64 L560.85,301.57 L561.7,301.5 L562.55,301.43 L563.4,301.37 L564.25,301.3 L565.1,301.23 L565.95,301.17 L566.8,301.1 L567.66,301.04 L568.51,300.98 L569.36,300.91 L570.21,300.85 L571.06,300.79 L571.91,300.73 L572.76,300.67 L573.62,300.61 L574.47,300.56 L575.32,300.5 L576.17,300.44 L577.02,300.39 L577.87,300.33 L578.72,300.27 L579.57,300.22 L580.42,300.17 L581.28,300.11 L582.13,300.06 L582.98,300.01 L583.83,299.96 L584.68,299.91 L585.53,299.86 L586.38,299.81 L587.24,299.76 L588.09,299.71 L588.94,299.67 L589.79,299.62 L590.64,299.57 L591.49,299.53 L592.34,299.48 L593.19,299.44 L594.04,299.39 L594.9,299.35 L595.75,299.3 L596.6,299.26 L597.45,299.22 L598.3,299.18 L599.15,299.14 L600,299.1 L600.86,299.05 L601.71,299.02 L602.56,298.98 L603.41,298.94 L604.26,298.9 L605.11,298.86 L605.96,298.82 L606.81,298.79 L607.66,298.75 L608.52,298.71 L609.37,298.68 L610.22,298.64 L611.07,298.61 L611.92,298.57 L612.77,298.54 L613.62,298.5 L614.48,298.47 L615.33,298.44 L616.18,298.4 L617.03,298.37 L617.88,298.34 L618.73,298.31 L619.58,298.28 L620.43,298.25 L621.28,298.22 L622.14,298.19 L622.99,298.16 L623.84,298.13 L624.69,298.1 L625.54,298.07 L626.39,298.04 L627.24,298.01 L628.1,297.98 L628.95,297.96 L629.8,297.93 L630.65,297.9 L631.5,297.88" fill="none" stroke="#00ee00" stroke-width="2.0" stroke-linejoin="round" stroke-linecap="round" />
<path d="M495.3,310.3 L496.15,309.81 L497,309.33 L497.85,308.85 L498.7,308.39 L499.56,307.93 L500.41,307.47 L501.26,307.02 L502.11,306.58 L502.96,306.15 L503.81,305.72 L504.66,305.29 L505.51,304.87 L506.37,304.46 L507.22,304.06 L508.07,303.66 L508.92,303.26 L509.77,302.87 L510.62,302.49 L511.47,302.11 L512.33,301.74 L513.18,301.37 L514.03,301 L514.88,300.65 L515.73,300.29 L516.58,299.95 L517.43,299.6 L518.28,299.27 L519.13,298.93 L519.99,298.6 L520.84,298.28 L521.69,297.96 L522.54,297.64 L523.39,297.33 L524.24,297.03 L525.09,296.73 L525.95,296.43 L526.8,296.13 L527.65,295.84 L528.5,295.56 L529.35,295.28 L530.2,295 L531.05,294.73 L531.9,294.46 L532.75,294.19 L533.61,293.93 L534.46,293.67 L535.31,293.41 L536.16,293.16 L537.01,292.92 L537.86,292.67 L538.71,292.43 L539.57,292.19 L540.42,291.96 L541.27,291.73 L542.12,291.5 L542.97,291.27 L543.82,291.05 L544.67,290.83 L545.52,290.62 L546.38,290.41 L547.23,290.2 L548.08,289.99 L548.93,289.79 L549.78,289.59 L550.63,289.39 L551.48,289.19 L552.33,289 L553.19,288.81 L554.04,288.63 L554.89,288.44 L555.74,288.26 L556.59,288.08 L557.44,287.9 L558.29,287.73 L559.14,287.56 L560,287.39 L560.85,287.22 L561.7,287.06 L562.55,286.89 L563.4,286.73 L564.25,286.58 L565.1,286.42 L565.95,286.27 L566.8,286.12 L567.66,285.97 L568.51,285.82 L569.36,285.67 L570.21,285.53 L571.06,285.39 L571.91,285.25 L572.76,285.11 L573.62,284.98 L574.47,284.84 L575.32,284.71 L576.17,284.58 L577.02,284.46 L577.87,284.33 L578.72,284.21 L579.57,284.08 L580.42,283.96 L581.28,283.84 L582.13,283.73 L582.98,283.61 L583.83,283.5 L584.68,283.38 L585.53,283.27 L586.38,283.16 L587.24,283.06 L588.09,282.95 L588.94,282.84 L589.79,282.74 L590.64,282.64 L591.49,282.54 L592.34,282.44 L593.19,282.34 L594.04,282.25 L594.9,282.15 L595.75,282.06 L596.6,281.96 L597.45,281.87 L598.3,281.78 L599.15,281.69 L600,281.61 L600.86,281.52 L601.71,281.44 L602.56,281.35 L603.41,281.27 L604.26,281.19 L605.11,281.11 L605.96,281.03 L606.81,280.95 L607.66,280.87 L608.52,280.8 L609.37,280.72 L610.22,280.65 L611.07,280.58 L611.92,280.51 L612.77,280.44 L613.62,280.37 L614.48,280.3 L615.33,280.23 L616.18,280.16 L617.03,280.1 L617.88,280.03 L618.73,279.97 L619.58,279.9 L620.43,279.84 L621.28,279.78 L622.14,279.72 L622.99,279.66 L623.84,279.6 L624.69,279.54 L625.54,279.49 L626.39,279.43 L627.24,279.37 L628.1,279.32 L628.95,279.27 L629.8,279.21 L630.65,279.16 L631.5,279.11" fill="none" stroke="#ffff00" stroke-width="2.0" stroke-linejoin="round" stroke-linecap="round" />
<path d="M495.3,310.3 L496.15,308.23 L497,306.27 L497.85,304.42 L498.7,302.66 L499.56,300.99 L500.41,299.41 L501.26,297.9 L502.11,296.48 L502.96,295.12 L503.81,293.83 L504.66,292.6 L505.51,291.43 L506.37,290.32 L507.22,289.26 L508.07,288.25 L508.92,287.28 L509.77,286.35 L510.62,285.47 L511.47,284.63 L512.33,283.82 L513.18,283.04 L514.03,282.3 L514.88,281.59 L515.73,280.9 L516.58,280.24 L517.43,279.61 L518.28,279 L519.13,278.42 L519.99,277.85 L520.84,277.3 L521.69,276.78 L522.54,276.27 L523.39,275.78 L524.24,275.3 L525.09,274.84 L525.95,274.39 L526.8,273.96 L527.65,273.54 L528.5,273.13 L529.35,272.73 L530.2,272.35 L531.05,271.97 L531.9,271.61 L532.75,271.25 L533.61,270.9 L534.46,270.56 L535.31,270.23 L536.16,269.9 L537.01,269.59 L537.86,269.28 L538.71,268.97 L539.57,268.68 L540.42,268.39 L541.27,268.1 L542.12,267.82 L542.97,267.55 L543.82,267.28 L544.67,267.01 L545.52,266.75 L546.38,266.49 L547.23,266.24 L548.08,266 L548.93,265.75 L549.78,265.51 L550.63,265.28 L551.48,265.04 L552.33,264.81 L553.19,264.59 L554.04,264.37 L554.89,264.15 L555.74,263.93 L556.59,263.71 L557.44,263.5 L558.29,263.3 L559.14,263.09 L560,262.89 L560.85,262.69 L561.7,262.49 L562.55,262.29 L563.4,262.1 L564.25,261.91 L565.1,261.72 L565.95,261.53 L566.8,261.35 L567.66,261.16 L568.51,260.98 L569.36,260.8 L570.21,260.63 L571.06,260.45 L571.91,260.28 L572.76,260.11 L573.62,259.94 L574.47,259.77 L575.32,259.6 L576.17,259.44 L577.02,259.28 L577.87,259.11 L578.72,258.95 L579.57,258.8 L580.42,258.64 L581.28,258.48 L582.13,258.33 L582.98,258.18 L583.83,258.03 L584.68,257.88 L585.53,257.73 L586.38,257.58 L587.24,257.44 L588.09,257.3 L588.94,257.15 L589.79,257.01 L590.64,256.87 L591.49,256.73 L592.34,256.6 L593.19,256.46 L594.04,256.32 L594.9,256.19 L595.75,256.06 L596.6,255.93 L597.45,255.8 L598.3,255.67 L599.15,255.54 L600,255.42 L600.86,255.29 L601.71,255.17 L602.56,255.04 L603.41,254.92 L604.26,254.8 L605.11,254.68 L605.96,254.56 L606.81,254.44 L607.66,254.33 L608.52,254.21 L609.37,254.1 L610.22,253.98 L611.07,253.87 L611.92,253.76 L612.77,253.65 L613.62,253.54 L614.48,253.43 L615.33,253.32 L616.18,253.21 L617.03,253.11 L617.88,253 L618.73,252.9 L619.58,252.8 L620.43,252.69 L621.28,252.59 L622.14,252.49 L622.99,252.39 L623.84,252.29 L624.69,252.2 L625.54,252.1 L626.39,252 L627.24,251.91 L628.1,251.81 L628.95,251.72 L629.8,251.63 L630.65,251.54 L631.5,251.44" fill="none" stroke="#0000ff" stroke-width="2.0" stroke-linejoin="round" stroke-linecap="round" />
<path d="M495.3,310.3 L496.15,306.58 L497,303.11 L497.85,299.88 L498.7,296.86 L499.56,294.04 L500.41,291.39 L501.26,288.92 L502.11,286.59 L502.96,284.4 L503.81,282.34 L504.66,280.4 L505.51,278.57 L506.37,276.84 L507.22,275.21 L508.07,273.65 L508.92,272.18 L509.77,270.78 L510.62,269.45 L511.47,268.17 L512.33,266.96 L513.18,265.8 L514.03,264.69 L514.88,263.63 L515.73,262.6 L516.58,261.62 L517.43,260.68 L518.28,259.76 L519.13,258.88 L519.99,258.04 L520.84,257.21 L521.69,256.42 L522.54,255.65 L523.39,254.9 L524.24,254.18 L525.09,253.47 L525.95,252.78 L526.8,252.12 L527.65,251.46 L528.5,250.83 L529.35,250.21 L530.2,249.61 L531.05,249.01 L531.9,248.44 L532.75,247.87 L533.61,247.32 L534.46,246.77 L535.31,246.24 L536.16,245.72 L537.01,245.21 L537.86,244.71 L538.71,244.22 L539.57,243.74 L540.42,243.26 L541.27,242.8 L542.12,242.34 L542.97,241.89 L543.82,241.45 L544.67,241.01 L545.52,240.58 L546.38,240.16 L547.23,239.75 L548.08,239.34 L548.93,238.94 L549.78,238.55 L550.63,238.16 L551.48,237.77 L552.33,237.4 L553.19,237.03 L554.04,236.66 L554.89,236.3 L555.74,235.94 L556.59,235.59 L557.44,235.25 L558.29,234.91 L559.14,234.57 L560,234.24 L560.85,233.92 L561.7,233.6 L562.55,233.28 L563.4,232.97 L564.25,232.66 L565.1,232.36 L565.95,232.06 L566.8,231.76 L567.66,231.47 L568.51,231.19 L569.36,230.9 L570.21,230.63 L571.06,230.35 L571.91,230.08 L572.76,229.81 L573.62,229.55 L574.47,229.29 L575.32,229.03 L576.17,228.78 L577.02,228.53 L577.87,228.28 L578.72,228.04 L579.57,227.8 L580.42,227.57 L581.28,227.33 L582.13,227.1 L582.98,226.88 L583.83,226.65 L584.68,226.43 L585.53,226.22 L586.38,226 L587.24,225.79 L588.09,225.58 L588.94,225.38 L589.79,225.17 L590.64,224.97 L591.49,224.78 L592.34,224.58 L593.19,224.39 L594.04,224.2 L594.9,224.01 L595.75,223.83 L596.6,223.65 L597.45,223.47 L598.3,223.29 L599.15,223.12 L600,222.94 L600.86,222.77 L601.71,222.61 L602.56,222.44 L603.41,222.28 L604.26,222.12 L605.11,221.96 L605.96,221.8 L606.81,221.65 L607.66,221.5 L608.52,221.35 L609.37,221.2 L610.22,221.05 L611.07,220.91 L611.92,220.77 L612.77,220.63 L613.62,220.49 L614.48,220.35 L615.33,220.22 L616.18,220.08 L617.03,219.95 L617.88,219.82 L618.73,219.7 L619.58,219.57 L620.43,219.45 L621.28,219.32 L622.14,219.2 L622.99,219.08 L623.84,218.97 L624.69,218.85 L625.54,218.74 L626.39,218.62 L627.24,218.51 L628.1,218.4 L628.95,218.29 L629.8,218.19 L630.65,218.08 L631.5,217.98" fill="none" stroke="#ff0000" stroke-width="2.0" stroke-linejoin="round" stroke-linecap="round" />
<text x="656.4" y="237.6" font-family="'Liberation Serif', serif" font-size="8.05" font-weight="bold" text-anchor="middle" fill="#000" >1000 pM</text>
<text x="672.2" y="256.6" font-family="'Liberation Serif', serif" font-size="8.05" font-weight="bold" text-anchor="middle" fill="#000" >MCP-1</text>
<text x="656" y="281.8" font-family="'Liberation Serif', serif" font-size="8.05" font-weight="bold" text-anchor="middle" fill="#000" >0.244 pM</text>
<line x1="654.7" y1="243.6" x2="654.7" y2="262.5" stroke="#000" stroke-width="0.9" />
<path d="M652.3,261.5 L654.7,267 L657.1,261.5 Z" fill="#000"/>
<text x="583.8" y="200.2" font-family="'Liberation Serif', serif" font-size="8.8" font-weight="bold" text-anchor="middle" fill="#000" >Response curve for MCP-1</text>
<text x="579.3" y="342.9" font-family="'Liberation Serif', serif" font-size="8.75" font-weight="bold" text-anchor="middle" fill="#000" >Time (sec)</text>
<text transform="translate(472,259) rotate(-90)" x="0" y="0" font-family="'Liberation Serif', serif" font-size="8.65" font-weight="bold" text-anchor="middle">Response (nm)</text>
<text x="2.6" y="384.6" font-family="'Liberation Serif', serif" font-size="19.5" font-weight="bold" text-anchor="start" fill="#000" style="stroke:none">G</text>
<line x1="36.1" y1="384.15" x2="36.1" y2="500.35" stroke="#000" stroke-width="1.3" />
<line x1="31.5" y1="494.6" x2="36.1" y2="494.6" stroke="#000" stroke-width="1.3" />
<text x="30.1" y="497.6" font-family="'Liberation Sans', sans-serif" font-size="7.85" font-weight="bold" text-anchor="end" fill="#000" >0</text>
<line x1="31.5" y1="467.15" x2="36.1" y2="467.15" stroke="#000" stroke-width="1.3" />
<text x="30.1" y="470.15" font-family="'Liberation Sans', sans-serif" font-size="7.85" font-weight="bold" text-anchor="end" fill="#000" >5</text>
<line x1="31.5" y1="439.7" x2="36.1" y2="439.7" stroke="#000" stroke-width="1.3" />
<text x="30.1" y="442.7" font-family="'Liberation Sans', sans-serif" font-size="7.85" font-weight="bold" text-anchor="end" fill="#000" >10</text>
<line x1="31.5" y1="412.25" x2="36.1" y2="412.25" stroke="#000" stroke-width="1.3" />
<text x="30.1" y="415.25" font-family="'Liberation Sans', sans-serif" font-size="7.85" font-weight="bold" text-anchor="end" fill="#000" >15</text>
<line x1="31.5" y1="384.8" x2="36.1" y2="384.8" stroke="#000" stroke-width="1.3" />
<text x="30.1" y="387.8" font-family="'Liberation Sans', sans-serif" font-size="7.85" font-weight="bold" text-anchor="end" fill="#000" >20</text>
<line x1="35.45" y1="499.7" x2="209.2" y2="499.7" stroke="#000" stroke-width="1.3" />
<line x1="44.4" y1="499.7" x2="44.4" y2="504.7" stroke="#000" stroke-width="1.3" />
<text x="44.4" y="514.1" font-family="'Liberation Sans', sans-serif" font-size="7.85" font-weight="bold" text-anchor="middle" fill="#000" >0</text>
<line x1="85.6" y1="499.7" x2="85.6" y2="504.7" stroke="#000" stroke-width="1.3" />
<text x="85.6" y="514.1" font-family="'Liberation Sans', sans-serif" font-size="7.85" font-weight="bold" text-anchor="middle" fill="#000" >250</text>
<line x1="126.8" y1="499.7" x2="126.8" y2="504.7" stroke="#000" stroke-width="1.3" />
<text x="126.8" y="514.1" font-family="'Liberation Sans', sans-serif" font-size="7.85" font-weight="bold" text-anchor="middle" fill="#000" >500</text>
<line x1="168" y1="499.7" x2="168" y2="504.7" stroke="#000" stroke-width="1.3" />
<text x="168" y="514.1" font-family="'Liberation Sans', sans-serif" font-size="7.85" font-weight="bold" text-anchor="middle" fill="#000" >750</text>
<line x1="209.2" y1="499.7" x2="209.2" y2="504.7" stroke="#000" stroke-width="1.3" />
<text x="209.2" y="514.1" font-family="'Liberation Sans', sans-serif" font-size="7.85" font-weight="bold" text-anchor="middle" fill="#000" >1000</text>
<path d="M44.48,492.76 L44.65,490.81 L44.82,489.33 L44.99,488.07 L45.16,486.94 L45.33,485.92 L45.5,484.97 L45.67,484.08 L45.84,483.24 L46,482.45 L46.17,481.69 L46.34,480.96 L46.51,480.26 L46.68,479.59 L46.85,478.94 L47.02,478.31 L47.19,477.7 L47.36,477.1 L47.53,476.53 L47.7,475.97 L47.7,475.97 L49.05,471.92 L50.41,468.47 L51.77,465.44 L53.12,462.72 L54.48,460.26 L55.84,457.99 L57.2,455.9 L58.55,453.96 L59.91,452.14 L61.27,450.43 L62.62,448.82 L63.98,447.29 L65.34,445.84 L66.7,444.46 L68.05,443.15 L69.41,441.89 L70.77,440.69 L72.13,439.54 L73.48,438.43 L74.84,437.36 L76.2,436.34 L77.55,435.35 L78.91,434.39 L80.27,433.47 L81.63,432.57 L82.98,431.71 L84.34,430.87 L85.7,430.05 L87.05,429.26 L88.41,428.5 L89.77,427.75 L91.13,427.03 L92.48,426.32 L93.84,425.63 L95.2,424.96 L96.55,424.31 L97.91,423.67 L99.27,423.05 L100.63,422.44 L101.98,421.85 L103.34,421.27 L104.7,420.7 L106.05,420.15 L107.41,419.61 L108.77,419.07 L110.13,418.56 L111.48,418.05 L112.84,417.55 L114.2,417.06 L115.55,416.58 L116.91,416.11 L118.27,415.65 L119.63,415.2 L120.98,414.75 L122.34,414.32 L123.7,413.89 L125.06,413.47 L126.41,413.05 L127.77,412.65 L129.13,412.25 L130.48,411.86 L131.84,411.47 L133.2,411.09 L134.56,410.72 L135.91,410.35 L137.27,409.99 L138.63,409.63 L139.98,409.28 L141.34,408.94 L142.7,408.6 L144.06,408.26 L145.41,407.93 L146.77,407.61 L148.13,407.29 L149.48,406.97 L150.84,406.66 L152.2,406.35 L153.56,406.05 L154.91,405.75 L156.27,405.46 L157.63,405.17 L158.98,404.88 L160.34,404.6 L161.7,404.32 L163.06,404.04 L164.41,403.77 L165.77,403.5 L167.13,403.24 L168.48,402.98 L169.84,402.72 L171.2,402.46 L172.56,402.21 L173.91,401.96 L175.27,401.72 L176.63,401.47 L177.98,401.23 L179.34,401 L180.7,400.76 L182.06,400.53 L183.41,400.3 L184.77,400.07 L186.13,399.85 L187.49,399.63 L188.84,399.41 L190.2,399.19 L191.56,398.98 L192.91,398.76 L194.27,398.55 L195.63,398.35 L196.99,398.14 L198.34,397.94 L199.7,397.74 L201.06,397.54 L202.41,397.34 L203.77,397.14 L205.13,396.95 L206.49,396.76 L207.84,396.57 L209.2,396.38" fill="none" stroke="#ff0000" stroke-width="2.1" stroke-linejoin="round" stroke-linecap="round" />
<circle cx="44" cy="492.6" r="2.5" fill="#0000ff"/>
<circle cx="44.5" cy="489.4" r="2.5" fill="#0000ff"/>
<circle cx="44.9" cy="485.4" r="2.5" fill="#0000ff"/>
<circle cx="46.7" cy="481.3" r="2.5" fill="#0000ff"/>
<circle cx="54.6" cy="458.9" r="2.5" fill="#0000ff"/>
<line x1="86" y1="427.4" x2="86" y2="434.8" stroke="#4040c8" stroke-width="0.85" />
<line x1="83.5" y1="427.4" x2="88.5" y2="427.4" stroke="#4040c8" stroke-width="0.85" />
<line x1="83.5" y1="434.8" x2="88.5" y2="434.8" stroke="#4040c8" stroke-width="0.85" />
<circle cx="86" cy="431.1" r="2.5" fill="#0000ff"/>
<line x1="209.4" y1="391.3" x2="209.4" y2="401.3" stroke="#4040c8" stroke-width="0.85" />
<line x1="206.9" y1="391.3" x2="211.9" y2="391.3" stroke="#4040c8" stroke-width="0.85" />
<line x1="206.9" y1="401.3" x2="211.9" y2="401.3" stroke="#4040c8" stroke-width="0.85" />
<circle cx="209.4" cy="396.3" r="2.5" fill="#0000ff"/>
<rect x="108.6" y="424.5" width="89.2" height="59" fill="#fff" stroke="#8a8a8a" stroke-width="0.9"/>
<line x1="108.6" y1="424.5" x2="108.6" y2="483.5" stroke="#555" stroke-width="0.7" />
<line x1="108.6" y1="483.5" x2="197.8" y2="483.5" stroke="#555" stroke-width="0.7" />
<line x1="106.6" y1="481.3" x2="108.6" y2="481.3" stroke="#444" stroke-width="0.6" />
<text x="105.9" y="482.6" font-family="'Liberation Serif', serif" font-size="3.6" font-weight="normal" text-anchor="end" fill="#000" >0</text>
<line x1="106.6" y1="467.65" x2="108.6" y2="467.65" stroke="#444" stroke-width="0.6" />
<text x="105.9" y="468.95" font-family="'Liberation Serif', serif" font-size="3.6" font-weight="normal" text-anchor="end" fill="#000" >2</text>
<line x1="106.6" y1="454" x2="108.6" y2="454" stroke="#444" stroke-width="0.6" />
<text x="105.9" y="455.3" font-family="'Liberation Serif', serif" font-size="3.6" font-weight="normal" text-anchor="end" fill="#000" >4</text>
<line x1="106.6" y1="440.35" x2="108.6" y2="440.35" stroke="#444" stroke-width="0.6" />
<text x="105.9" y="441.65" font-family="'Liberation Serif', serif" font-size="3.6" font-weight="normal" text-anchor="end" fill="#000" >6</text>
<line x1="106.6" y1="426.7" x2="108.6" y2="426.7" stroke="#444" stroke-width="0.6" />
<text x="105.9" y="428" font-family="'Liberation Serif', serif" font-size="3.6" font-weight="normal" text-anchor="end" fill="#000" >8</text>
<line x1="112.9" y1="483.5" x2="112.9" y2="485.6" stroke="#444" stroke-width="0.6" />
<text x="112.9" y="490.8" font-family="'Liberation Serif', serif" font-size="3.6" font-weight="normal" text-anchor="middle" fill="#000" >0</text>
<line x1="128.24" y1="483.5" x2="128.24" y2="485.6" stroke="#444" stroke-width="0.6" />
<text x="128.24" y="490.8" font-family="'Liberation Serif', serif" font-size="3.6" font-weight="normal" text-anchor="middle" fill="#000" >12</text>
<line x1="143.57" y1="483.5" x2="143.57" y2="485.6" stroke="#444" stroke-width="0.6" />
<text x="143.57" y="490.8" font-family="'Liberation Serif', serif" font-size="3.6" font-weight="normal" text-anchor="middle" fill="#000" >24</text>
<line x1="158.91" y1="483.5" x2="158.91" y2="485.6" stroke="#444" stroke-width="0.6" />
<text x="158.91" y="490.8" font-family="'Liberation Serif', serif" font-size="3.6" font-weight="normal" text-anchor="middle" fill="#000" >36</text>
<line x1="174.24" y1="483.5" x2="174.24" y2="485.6" stroke="#444" stroke-width="0.6" />
<text x="174.24" y="490.8" font-family="'Liberation Serif', serif" font-size="3.6" font-weight="normal" text-anchor="middle" fill="#000" >48</text>
<line x1="189.58" y1="483.5" x2="189.58" y2="485.6" stroke="#444" stroke-width="0.6" />
<text x="189.58" y="490.8" font-family="'Liberation Serif', serif" font-size="3.6" font-weight="normal" text-anchor="middle" fill="#000" >60</text>
<line x1="114" y1="475.6" x2="193" y2="437.9" stroke="#ff0000" stroke-width="0.8" />
<rect x="111.8" y="478.6" width="2.4" height="2.4" fill="#0000ff"/>
<rect x="112.8" y="474.1" width="2.4" height="2.4" fill="#0000ff"/>
<line x1="117.7" y1="469.8" x2="117.7" y2="471.8" stroke="#0000ff" stroke-width="0.5" />
<line x1="116.9" y1="469.8" x2="118.5" y2="469.8" stroke="#0000ff" stroke-width="0.5" />
<line x1="116.9" y1="471.8" x2="118.5" y2="471.8" stroke="#0000ff" stroke-width="0.5" />
<rect x="116.5" y="469.6" width="2.4" height="2.4" fill="#0000ff"/>
<line x1="132.8" y1="464.5" x2="132.8" y2="465.7" stroke="#0000ff" stroke-width="0.5" />
<line x1="132" y1="464.5" x2="133.6" y2="464.5" stroke="#0000ff" stroke-width="0.5" />
<line x1="132" y1="465.7" x2="133.6" y2="465.7" stroke="#0000ff" stroke-width="0.5" />
<rect x="131.6" y="463.9" width="2.4" height="2.4" fill="#0000ff"/>
<line x1="193" y1="436" x2="193" y2="439.2" stroke="#0000ff" stroke-width="0.5" />
<line x1="192.2" y1="436" x2="193.8" y2="436" stroke="#0000ff" stroke-width="0.5" />
<line x1="192.2" y1="439.2" x2="193.8" y2="439.2" stroke="#0000ff" stroke-width="0.5" />
<rect x="191.8" y="436.4" width="2.4" height="2.4" fill="#0000ff"/>
<text x="121.2" y="437.1" font-family="'Liberation Serif', serif" font-size="4.1" font-weight="normal" text-anchor="start" fill="#000" font-style="italic" >y = 0.0998x + 0.8397</text>
<text x="121.2" y="443.1" font-family="'Liberation Serif', serif" font-size="4.0" font-weight="normal" text-anchor="start" fill="#000" font-style="italic" >R² = 0.987</text>
<text x="153.6" y="497.1" font-family="'Liberation Serif', serif" font-size="4.78" font-weight="normal" text-anchor="middle" fill="#000" >Concentration of MCP-1 (pM)</text>
<text transform="translate(99.6,454.6) rotate(-90)" font-family="'Liberation Serif', serif" font-size="4.7" text-anchor="middle">Response (nm)</text>
<text x="127.8" y="384.5" font-family="'Liberation Serif', serif" font-size="8.83" font-weight="bold" text-anchor="middle" fill="#000" >Calibration curve for MCP-1</text>
<text x="123.1" y="526.2" font-family="'Liberation Serif', serif" font-size="8.75" font-weight="bold" text-anchor="middle" fill="#000" >Concentration of MCP-1 (pM)</text>
<text transform="translate(15.5,441.9) rotate(-90)" x="0" y="0" font-family="'Liberation Serif', serif" font-size="8.65" font-weight="bold" text-anchor="middle">Response (nm)</text>
<text x="231.2" y="384.9" font-family="'Liberation Serif', serif" font-size="19.5" font-weight="bold" text-anchor="start" fill="#000" style="stroke:none">H</text>
<line x1="265.2" y1="383.87" x2="265.2" y2="499.85" stroke="#000" stroke-width="1.3" />
<line x1="260.2" y1="488.5" x2="265.2" y2="488.5" stroke="#000" stroke-width="1.3" />
<text x="258.1" y="491.5" font-family="'Liberation Sans', sans-serif" font-size="7.85" font-weight="bold" text-anchor="end" fill="#000" >0.0</text>
<line x1="260.2" y1="462.5" x2="265.2" y2="462.5" stroke="#000" stroke-width="1.3" />
<text x="258.1" y="465.5" font-family="'Liberation Sans', sans-serif" font-size="7.85" font-weight="bold" text-anchor="end" fill="#000" >1.5</text>
<line x1="260.2" y1="436.51" x2="265.2" y2="436.51" stroke="#000" stroke-width="1.3" />
<text x="258.1" y="439.51" font-family="'Liberation Sans', sans-serif" font-size="7.85" font-weight="bold" text-anchor="end" fill="#000" >3.0</text>
<line x1="260.2" y1="410.51" x2="265.2" y2="410.51" stroke="#000" stroke-width="1.3" />
<text x="258.1" y="413.51" font-family="'Liberation Sans', sans-serif" font-size="7.85" font-weight="bold" text-anchor="end" fill="#000" >4.5</text>
<line x1="260.2" y1="384.52" x2="265.2" y2="384.52" stroke="#000" stroke-width="1.3" />
<text x="258.1" y="387.52" font-family="'Liberation Sans', sans-serif" font-size="7.85" font-weight="bold" text-anchor="end" fill="#000" >6.0</text>
<rect x="275.6" y="395" width="14" height="93.5" fill="#ff0000"/>
<line x1="282.6" y1="390.3" x2="282.6" y2="395" stroke="#ff0000" stroke-width="0.9" />
<line x1="279.1" y1="390.3" x2="286.1" y2="390.3" stroke="#ff0000" stroke-width="0.9" />
<rect x="300.26" y="485" width="14" height="3.5" fill="#0000ff"/>
<line x1="307.26" y1="483.4" x2="307.26" y2="485" stroke="#0000ff" stroke-width="0.9" />
<line x1="303.76" y1="483.4" x2="310.76" y2="483.4" stroke="#0000ff" stroke-width="0.9" />
<text x="301.24" y="482.58" font-family="'Liberation Sans', sans-serif" font-size="8.2" font-weight="bold" text-anchor="middle" fill="#000" >*</text>
<text x="305.38" y="482.58" font-family="'Liberation Sans', sans-serif" font-size="8.2" font-weight="bold" text-anchor="middle" fill="#000" >*</text>
<text x="309.54" y="482.58" font-family="'Liberation Sans', sans-serif" font-size="8.2" font-weight="bold" text-anchor="middle" fill="#000" >*</text>
<text x="313.69" y="482.58" font-family="'Liberation Sans', sans-serif" font-size="8.2" font-weight="bold" text-anchor="middle" fill="#000" >*</text>
<rect x="324.92" y="483.9" width="14" height="4.6" fill="#00ff00"/>
<line x1="331.92" y1="480.6" x2="331.92" y2="483.9" stroke="#00ff00" stroke-width="0.9" />
<line x1="328.42" y1="480.6" x2="335.42" y2="480.6" stroke="#00ff00" stroke-width="0.9" />
<text x="325.89" y="480.98" font-family="'Liberation Sans', sans-serif" font-size="8.2" font-weight="bold" text-anchor="middle" fill="#000" >*</text>
<text x="330.04" y="480.98" font-family="'Liberation Sans', sans-serif" font-size="8.2" font-weight="bold" text-anchor="middle" fill="#000" >*</text>
<text x="334.19" y="480.98" font-family="'Liberation Sans', sans-serif" font-size="8.2" font-weight="bold" text-anchor="middle" fill="#000" >*</text>
<text x="338.34" y="480.98" font-family="'Liberation Sans', sans-serif" font-size="8.2" font-weight="bold" text-anchor="middle" fill="#000" >*</text>
<rect x="349.58" y="488.5" width="14" height="3.6" fill="#a0642a"/>
<line x1="356.58" y1="496.2" x2="356.58" y2="492.1" stroke="#a0642a" stroke-width="0.9" />
<line x1="353.08" y1="496.2" x2="360.08" y2="496.2" stroke="#a0642a" stroke-width="0.9" />
<text x="350.56" y="487.78" font-family="'Liberation Sans', sans-serif" font-size="8.2" font-weight="bold" text-anchor="middle" fill="#000" >*</text>
<text x="354.7" y="487.78" font-family="'Liberation Sans', sans-serif" font-size="8.2" font-weight="bold" text-anchor="middle" fill="#000" >*</text>
<text x="358.86" y="487.78" font-family="'Liberation Sans', sans-serif" font-size="8.2" font-weight="bold" text-anchor="middle" fill="#000" >*</text>
<text x="363" y="487.78" font-family="'Liberation Sans', sans-serif" font-size="8.2" font-weight="bold" text-anchor="middle" fill="#000" >*</text>
<rect x="374.24" y="488.5" width="14" height="2.1" fill="#a000b8"/>
<line x1="381.24" y1="494.6" x2="381.24" y2="490.6" stroke="#a000b8" stroke-width="0.9" />
<line x1="377.74" y1="494.6" x2="384.74" y2="494.6" stroke="#a000b8" stroke-width="0.9" />
<text x="375.21" y="488.98" font-family="'Liberation Sans', sans-serif" font-size="8.2" font-weight="bold" text-anchor="middle" fill="#000" >*</text>
<text x="379.36" y="488.98" font-family="'Liberation Sans', sans-serif" font-size="8.2" font-weight="bold" text-anchor="middle" fill="#000" >*</text>
<text x="383.51" y="488.98" font-family="'Liberation Sans', sans-serif" font-size="8.2" font-weight="bold" text-anchor="middle" fill="#000" >*</text>
<text x="387.66" y="488.98" font-family="'Liberation Sans', sans-serif" font-size="8.2" font-weight="bold" text-anchor="middle" fill="#000" >*</text>
<rect x="398.9" y="486" width="14" height="2.5" fill="#bcbc00"/>
<line x1="405.9" y1="483.3" x2="405.9" y2="486" stroke="#bcbc00" stroke-width="0.9" />
<line x1="402.4" y1="483.3" x2="409.4" y2="483.3" stroke="#bcbc00" stroke-width="0.9" />
<text x="399.88" y="483.58" font-family="'Liberation Sans', sans-serif" font-size="8.2" font-weight="bold" text-anchor="middle" fill="#000" >*</text>
<text x="404.02" y="483.58" font-family="'Liberation Sans', sans-serif" font-size="8.2" font-weight="bold" text-anchor="middle" fill="#000" >*</text>
<text x="408.18" y="483.58" font-family="'Liberation Sans', sans-serif" font-size="8.2" font-weight="bold" text-anchor="middle" fill="#000" >*</text>
<text x="412.32" y="483.58" font-family="'Liberation Sans', sans-serif" font-size="8.2" font-weight="bold" text-anchor="middle" fill="#000" >*</text>
<rect x="423.56" y="485.1" width="14" height="3.4" fill="#ff6600"/>
<line x1="430.56" y1="481.4" x2="430.56" y2="485.1" stroke="#ff6600" stroke-width="0.9" />
<line x1="427.06" y1="481.4" x2="434.06" y2="481.4" stroke="#ff6600" stroke-width="0.9" />
<text x="424.54" y="480.48" font-family="'Liberation Sans', sans-serif" font-size="8.2" font-weight="bold" text-anchor="middle" fill="#000" >*</text>
<text x="428.69" y="480.48" font-family="'Liberation Sans', sans-serif" font-size="8.2" font-weight="bold" text-anchor="middle" fill="#000" >*</text>
<text x="432.84" y="480.48" font-family="'Liberation Sans', sans-serif" font-size="8.2" font-weight="bold" text-anchor="middle" fill="#000" >*</text>
<text x="436.99" y="480.48" font-family="'Liberation Sans', sans-serif" font-size="8.2" font-weight="bold" text-anchor="middle" fill="#000" >*</text>
<rect x="448.22" y="485.8" width="14" height="2.7" fill="#40e0a8"/>
<line x1="455.22" y1="482.6" x2="455.22" y2="485.8" stroke="#40e0a8" stroke-width="0.9" />
<line x1="451.72" y1="482.6" x2="458.72" y2="482.6" stroke="#40e0a8" stroke-width="0.9" />
<text x="449.19" y="482.68" font-family="'Liberation Sans', sans-serif" font-size="8.2" font-weight="bold" text-anchor="middle" fill="#000" >*</text>
<text x="453.34" y="482.68" font-family="'Liberation Sans', sans-serif" font-size="8.2" font-weight="bold" text-anchor="middle" fill="#000" >*</text>
<text x="457.5" y="482.68" font-family="'Liberation Sans', sans-serif" font-size="8.2" font-weight="bold" text-anchor="middle" fill="#000" >*</text>
<text x="461.64" y="482.68" font-family="'Liberation Sans', sans-serif" font-size="8.2" font-weight="bold" text-anchor="middle" fill="#000" >*</text>
<rect x="472.88" y="486.7" width="14" height="1.8" fill="#4a86e8"/>
<line x1="479.88" y1="483.6" x2="479.88" y2="486.7" stroke="#4a86e8" stroke-width="0.9" />
<line x1="476.38" y1="483.6" x2="483.38" y2="483.6" stroke="#4a86e8" stroke-width="0.9" />
<text x="473.85" y="484.98" font-family="'Liberation Sans', sans-serif" font-size="8.2" font-weight="bold" text-anchor="middle" fill="#000" >*</text>
<text x="478" y="484.98" font-family="'Liberation Sans', sans-serif" font-size="8.2" font-weight="bold" text-anchor="middle" fill="#000" >*</text>
<text x="482.15" y="484.98" font-family="'Liberation Sans', sans-serif" font-size="8.2" font-weight="bold" text-anchor="middle" fill="#000" >*</text>
<text x="486.3" y="484.98" font-family="'Liberation Sans', sans-serif" font-size="8.2" font-weight="bold" text-anchor="middle" fill="#000" >*</text>
<rect x="497.54" y="485.8" width="14" height="2.7" fill="#d890f8"/>
<line x1="504.54" y1="482.6" x2="504.54" y2="485.8" stroke="#d890f8" stroke-width="0.9" />
<line x1="501.04" y1="482.6" x2="508.04" y2="482.6" stroke="#d890f8" stroke-width="0.9" />
<text x="498.51" y="483.58" font-family="'Liberation Sans', sans-serif" font-size="8.2" font-weight="bold" text-anchor="middle" fill="#000" >*</text>
<text x="502.66" y="483.58" font-family="'Liberation Sans', sans-serif" font-size="8.2" font-weight="bold" text-anchor="middle" fill="#000" >*</text>
<text x="506.81" y="483.58" font-family="'Liberation Sans', sans-serif" font-size="8.2" font-weight="bold" text-anchor="middle" fill="#000" >*</text>
<text x="510.96" y="483.58" font-family="'Liberation Sans', sans-serif" font-size="8.2" font-weight="bold" text-anchor="middle" fill="#000" >*</text>
<rect x="522.2" y="488.5" width="14" height="2.6" fill="#a00000"/>
<line x1="529.2" y1="494.3" x2="529.2" y2="491.1" stroke="#a00000" stroke-width="0.9" />
<line x1="525.7" y1="494.3" x2="532.7" y2="494.3" stroke="#a00000" stroke-width="0.9" />
<text x="523.18" y="488.58" font-family="'Liberation Sans', sans-serif" font-size="8.2" font-weight="bold" text-anchor="middle" fill="#000" >*</text>
<text x="527.33" y="488.58" font-family="'Liberation Sans', sans-serif" font-size="8.2" font-weight="bold" text-anchor="middle" fill="#000" >*</text>
<text x="531.48" y="488.58" font-family="'Liberation Sans', sans-serif" font-size="8.2" font-weight="bold" text-anchor="middle" fill="#000" >*</text>
<text x="535.63" y="488.58" font-family="'Liberation Sans', sans-serif" font-size="8.2" font-weight="bold" text-anchor="middle" fill="#000" >*</text>
<rect x="546.86" y="488.5" width="14" height="2.9" fill="#0a880a"/>
<line x1="553.86" y1="494.6" x2="553.86" y2="491.4" stroke="#0a880a" stroke-width="0.9" />
<line x1="550.36" y1="494.6" x2="557.36" y2="494.6" stroke="#0a880a" stroke-width="0.9" />
<text x="547.84" y="488.98" font-family="'Liberation Sans', sans-serif" font-size="8.2" font-weight="bold" text-anchor="middle" fill="#000" >*</text>
<text x="551.99" y="488.98" font-family="'Liberation Sans', sans-serif" font-size="8.2" font-weight="bold" text-anchor="middle" fill="#000" >*</text>
<text x="556.13" y="488.98" font-family="'Liberation Sans', sans-serif" font-size="8.2" font-weight="bold" text-anchor="middle" fill="#000" >*</text>
<text x="560.29" y="488.98" font-family="'Liberation Sans', sans-serif" font-size="8.2" font-weight="bold" text-anchor="middle" fill="#000" >*</text>
<rect x="571.52" y="488.5" width="14" height="2.4" fill="#8c8ce6"/>
<line x1="578.52" y1="494.3" x2="578.52" y2="490.9" stroke="#8c8ce6" stroke-width="0.9" />
<line x1="575.02" y1="494.3" x2="582.02" y2="494.3" stroke="#8c8ce6" stroke-width="0.9" />
<text x="572.5" y="488.98" font-family="'Liberation Sans', sans-serif" font-size="8.2" font-weight="bold" text-anchor="middle" fill="#000" >*</text>
<text x="576.64" y="488.98" font-family="'Liberation Sans', sans-serif" font-size="8.2" font-weight="bold" text-anchor="middle" fill="#000" >*</text>
<text x="580.79" y="488.98" font-family="'Liberation Sans', sans-serif" font-size="8.2" font-weight="bold" text-anchor="middle" fill="#000" >*</text>
<text x="584.95" y="488.98" font-family="'Liberation Sans', sans-serif" font-size="8.2" font-weight="bold" text-anchor="middle" fill="#000" >*</text>
<rect x="596.18" y="488.5" width="14" height="1.8" fill="#f0a8a8"/>
<line x1="603.18" y1="493.1" x2="603.18" y2="490.3" stroke="#f0a8a8" stroke-width="0.9" />
<line x1="599.68" y1="493.1" x2="606.68" y2="493.1" stroke="#f0a8a8" stroke-width="0.9" />
<text x="597.16" y="489.38" font-family="'Liberation Sans', sans-serif" font-size="8.2" font-weight="bold" text-anchor="middle" fill="#000" >*</text>
<text x="601.31" y="489.38" font-family="'Liberation Sans', sans-serif" font-size="8.2" font-weight="bold" text-anchor="middle" fill="#000" >*</text>
<text x="605.46" y="489.38" font-family="'Liberation Sans', sans-serif" font-size="8.2" font-weight="bold" text-anchor="middle" fill="#000" >*</text>
<text x="609.61" y="489.38" font-family="'Liberation Sans', sans-serif" font-size="8.2" font-weight="bold" text-anchor="middle" fill="#000" >*</text>
<rect x="620.84" y="486.4" width="14" height="2.1" fill="#148898"/>
<line x1="627.84" y1="483.9" x2="627.84" y2="486.4" stroke="#148898" stroke-width="0.9" />
<line x1="624.34" y1="483.9" x2="631.34" y2="483.9" stroke="#148898" stroke-width="0.9" />
<text x="621.82" y="483.98" font-family="'Liberation Sans', sans-serif" font-size="8.2" font-weight="bold" text-anchor="middle" fill="#000" >*</text>
<text x="625.97" y="483.98" font-family="'Liberation Sans', sans-serif" font-size="8.2" font-weight="bold" text-anchor="middle" fill="#000" >*</text>
<text x="630.12" y="483.98" font-family="'Liberation Sans', sans-serif" font-size="8.2" font-weight="bold" text-anchor="middle" fill="#000" >*</text>
<text x="634.27" y="483.98" font-family="'Liberation Sans', sans-serif" font-size="8.2" font-weight="bold" text-anchor="middle" fill="#000" >*</text>
<rect x="645.5" y="487.2" width="14" height="1.3" fill="#000000"/>
<line x1="652.5" y1="484.4" x2="652.5" y2="487.2" stroke="#000000" stroke-width="0.9" />
<line x1="649" y1="484.4" x2="656" y2="484.4" stroke="#000000" stroke-width="0.9" />
<text x="646.48" y="483.68" font-family="'Liberation Sans', sans-serif" font-size="8.2" font-weight="bold" text-anchor="middle" fill="#000" >*</text>
<text x="650.62" y="483.68" font-family="'Liberation Sans', sans-serif" font-size="8.2" font-weight="bold" text-anchor="middle" fill="#000" >*</text>
<text x="654.77" y="483.68" font-family="'Liberation Sans', sans-serif" font-size="8.2" font-weight="bold" text-anchor="middle" fill="#000" >*</text>
<text x="658.93" y="483.68" font-family="'Liberation Sans', sans-serif" font-size="8.2" font-weight="bold" text-anchor="middle" fill="#000" >*</text>
<line x1="265.1" y1="488.5" x2="670.6" y2="488.5" stroke="#111" stroke-width="1.2" />
<line x1="264.55" y1="499.2" x2="671" y2="499.2" stroke="#000" stroke-width="1.3" />
<line x1="282.6" y1="499.2" x2="282.6" y2="504.2" stroke="#000" stroke-width="1.3" />
<line x1="307.26" y1="499.2" x2="307.26" y2="504.2" stroke="#000" stroke-width="1.3" />
<line x1="331.92" y1="499.2" x2="331.92" y2="504.2" stroke="#000" stroke-width="1.3" />
<line x1="356.58" y1="499.2" x2="356.58" y2="504.2" stroke="#000" stroke-width="1.3" />
<line x1="381.24" y1="499.2" x2="381.24" y2="504.2" stroke="#000" stroke-width="1.3" />
<line x1="405.9" y1="499.2" x2="405.9" y2="504.2" stroke="#000" stroke-width="1.3" />
<line x1="430.56" y1="499.2" x2="430.56" y2="504.2" stroke="#000" stroke-width="1.3" />
<line x1="455.22" y1="499.2" x2="455.22" y2="504.2" stroke="#000" stroke-width="1.3" />
<line x1="479.88" y1="499.2" x2="479.88" y2="504.2" stroke="#000" stroke-width="1.3" />
<line x1="504.54" y1="499.2" x2="504.54" y2="504.2" stroke="#000" stroke-width="1.3" />
<line x1="529.2" y1="499.2" x2="529.2" y2="504.2" stroke="#000" stroke-width="1.3" />
<line x1="553.86" y1="499.2" x2="553.86" y2="504.2" stroke="#000" stroke-width="1.3" />
<line x1="578.52" y1="499.2" x2="578.52" y2="504.2" stroke="#000" stroke-width="1.3" />
<line x1="603.18" y1="499.2" x2="603.18" y2="504.2" stroke="#000" stroke-width="1.3" />
<line x1="627.84" y1="499.2" x2="627.84" y2="504.2" stroke="#000" stroke-width="1.3" />
<line x1="652.5" y1="499.2" x2="652.5" y2="504.2" stroke="#000" stroke-width="1.3" />
<text transform="translate(284.4,511.6) rotate(-33)" font-family="'Liberation Serif', serif" font-size="8.3" font-weight="bold" text-anchor="end">MCP-1</text>
<text transform="translate(309.06,511.6) rotate(-33)" font-family="'Liberation Serif', serif" font-size="8.3" font-weight="bold" text-anchor="end">TNF-α</text>
<text transform="translate(333.72,511.6) rotate(-33)" font-family="'Liberation Serif', serif" font-size="8.3" font-weight="bold" text-anchor="end">VEGF<tspan font-size="5" dy="1.5">165</tspan></text>
<text transform="translate(358.38,511.6) rotate(-33)" font-family="'Liberation Serif', serif" font-size="8.3" font-weight="bold" text-anchor="end">PDGF-BB</text>
<text transform="translate(383.04,511.6) rotate(-33)" font-family="'Liberation Serif', serif" font-size="8.3" font-weight="bold" text-anchor="end">GDF15</text>
<text transform="translate(407.7,511.6) rotate(-33)" font-family="'Liberation Serif', serif" font-size="8.3" font-weight="bold" text-anchor="end">LCN 1</text>
<text transform="translate(432.36,511.6) rotate(-33)" font-family="'Liberation Serif', serif" font-size="8.3" font-weight="bold" text-anchor="end">MMP-9</text>
<text transform="translate(457.02,511.6) rotate(-33)" font-family="'Liberation Serif', serif" font-size="8.3" font-weight="bold" text-anchor="end">AZGP1</text>
<text transform="translate(481.68,511.6) rotate(-33)" font-family="'Liberation Serif', serif" font-size="8.3" font-weight="bold" text-anchor="end">ANGPTL4</text>
<text transform="translate(506.34,511.6) rotate(-33)" font-family="'Liberation Serif', serif" font-size="8.3" font-weight="bold" text-anchor="end">CTGF</text>
<text transform="translate(531,511.6) rotate(-33)" font-family="'Liberation Serif', serif" font-size="8.3" font-weight="bold" text-anchor="end">CNTF</text>
<text transform="translate(555.66,511.6) rotate(-33)" font-family="'Liberation Serif', serif" font-size="8.3" font-weight="bold" text-anchor="end">BDNF</text>
<text transform="translate(580.32,511.6) rotate(-33)" font-family="'Liberation Serif', serif" font-size="8.3" font-weight="bold" text-anchor="end">ATP</text>
<text transform="translate(604.98,511.6) rotate(-33)" font-family="'Liberation Serif', serif" font-size="8.3" font-weight="bold" text-anchor="end">GTX</text>
<text transform="translate(629.64,511.6) rotate(-33)" font-family="'Liberation Serif', serif" font-size="8.3" font-weight="bold" text-anchor="end">HSA</text>
<text transform="translate(654.3,511.6) rotate(-33)" font-family="'Liberation Serif', serif" font-size="8.3" font-weight="bold" text-anchor="end">BSA</text>
<text x="465.3" y="383.1" font-family="'Liberation Serif', serif" font-size="8.93" font-weight="bold" text-anchor="middle" fill="#000" >Biosensor specificity for MCP-1</text>
<text x="552.95" y="409.78" font-family="'Liberation Sans', sans-serif" font-size="8.2" font-weight="bold" text-anchor="middle" fill="#000" >*</text>
<text x="557.05" y="409.78" font-family="'Liberation Sans', sans-serif" font-size="8.2" font-weight="bold" text-anchor="middle" fill="#000" >*</text>
<text x="561.15" y="409.78" font-family="'Liberation Sans', sans-serif" font-size="8.2" font-weight="bold" text-anchor="middle" fill="#000" >*</text>
<text x="565.25" y="409.78" font-family="'Liberation Sans', sans-serif" font-size="8.2" font-weight="bold" text-anchor="middle" fill="#000" >*</text>
<text x="621.7" y="411.9" font-family="'Liberation Serif', serif" font-size="7.4" font-weight="bold" text-anchor="middle" fill="#000" font-style="italic" >refers to p &lt; 0.0001 for comparison</text>
<text x="618.3" y="417.9" font-family="'Liberation Serif', serif" font-size="7.4" font-weight="bold" text-anchor="middle" fill="#000" font-style="italic" >against signal induced by MCP-1</text>
<text transform="translate(242.2,441.6) rotate(-90)" x="0" y="0" font-family="'Liberation Serif', serif" font-size="8.65" font-weight="bold" text-anchor="middle">Response (nm)</text>
</svg></div>
</body></html>
